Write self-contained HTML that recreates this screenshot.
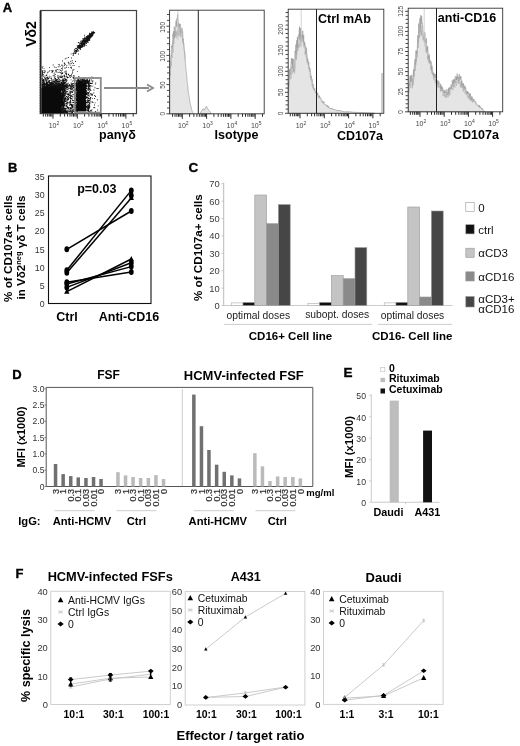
<!DOCTYPE html>
<html><head><meta charset="utf-8"><style>
html,body{margin:0;padding:0;background:#fff;}
body{width:520px;height:746px;overflow:hidden;}
svg{display:block;font-family:"Liberation Sans", sans-serif;filter:blur(0.3px);}
</style></head><body>
<svg width="520" height="746" viewBox="0 0 520 746">
<rect width="520" height="746" fill="#fff"/>
<text x="2.8" y="12" font-size="13" font-weight="bold" fill="#000" stroke="#000" stroke-width="0.35">A</text>
<path d="M84.5 40.4h.9v.9h-.9zM78.2 47h.9v.9h-.9zM86.2 36.7h.9v.9h-.9zM79.7 42.9h.9v.9h-.9zM79.1 45.6h.9v.9h-.9zM83.3 37.9h.9v.9h-.9zM77.7 46.2h.9v.9h-.9zM82.6 42.8h.9v.9h-.9zM80.1 45h.9v.9h-.9zM86.2 38.2h.9v.9h-.9zM92.2 35.2h.9v.9h-.9zM78.5 42.4h.9v.9h-.9zM81.2 44h.9v.9h-.9zM89 34.9h.9v.9h-.9zM82.2 44h.9v.9h-.9zM93.1 32.9h.9v.9h-.9zM83.4 40.4h.9v.9h-.9zM86.2 37.2h.9v.9h-.9zM80.6 42.7h.9v.9h-.9zM75 51.7h.9v.9h-.9zM83.6 41h.9v.9h-.9zM89.2 33.8h.9v.9h-.9zM87.6 36.1h.9v.9h-.9zM83.2 44.2h.9v.9h-.9zM88.6 36.3h.9v.9h-.9zM85.9 38.6h.9v.9h-.9zM82.5 44.3h.9v.9h-.9zM74.9 48.1h.9v.9h-.9zM92.2 33h.9v.9h-.9zM84.5 39.4h.9v.9h-.9zM70.7 53.4h.9v.9h-.9zM86.7 40.5h.9v.9h-.9zM81.9 43.9h.9v.9h-.9zM93.2 31.5h.9v.9h-.9zM76.8 45.2h.9v.9h-.9zM90.8 36.1h.9v.9h-.9zM86 36.2h.9v.9h-.9zM78.9 46h.9v.9h-.9zM80.8 42.7h.9v.9h-.9zM87.9 38.3h.9v.9h-.9zM85.3 38.6h.9v.9h-.9zM88.6 35.9h.9v.9h-.9zM91.8 32.3h.9v.9h-.9zM84.4 43h.9v.9h-.9zM83.7 39.1h.9v.9h-.9zM85.4 41.4h.9v.9h-.9zM80.8 46.4h.9v.9h-.9zM91.5 33.2h.9v.9h-.9zM78.1 48.2h.9v.9h-.9zM91.3 32.2h.9v.9h-.9zM92.3 34.5h.9v.9h-.9zM84.1 44.1h.9v.9h-.9zM84.5 42.6h.9v.9h-.9zM89.9 35.7h.9v.9h-.9zM77.6 46.9h.9v.9h-.9zM91.5 34.5h.9v.9h-.9zM84.7 39.6h.9v.9h-.9zM90.7 33.1h.9v.9h-.9zM90 35.7h.9v.9h-.9zM81.5 46.5h.9v.9h-.9zM84.1 40h.9v.9h-.9zM89.9 34.7h.9v.9h-.9zM88.7 34.5h.9v.9h-.9zM85.8 39.9h.9v.9h-.9zM88.5 37h.9v.9h-.9zM92 35.1h.9v.9h-.9zM75.3 50.5h.9v.9h-.9zM92 35.7h.9v.9h-.9zM82.8 44.4h.9v.9h-.9zM89.4 35.9h.9v.9h-.9zM90.4 37.2h.9v.9h-.9zM91.4 35.5h.9v.9h-.9zM91 36.2h.9v.9h-.9zM85.7 38.9h.9v.9h-.9zM86.1 37.7h.9v.9h-.9zM77.9 45.7h.9v.9h-.9zM81.5 42.7h.9v.9h-.9zM90.7 33.4h.9v.9h-.9zM84.3 40.9h.9v.9h-.9zM81.7 45.7h.9v.9h-.9zM81.9 41.2h.9v.9h-.9zM76.9 51.2h.9v.9h-.9zM83.7 43h.9v.9h-.9zM86.6 36.1h.9v.9h-.9zM90 35.2h.9v.9h-.9zM87.9 37h.9v.9h-.9zM84.7 42.2h.9v.9h-.9zM92.9 31.2h.9v.9h-.9zM87.3 38.8h.9v.9h-.9zM76.2 51.2h.9v.9h-.9zM81.7 45.6h.9v.9h-.9zM82.1 44h.9v.9h-.9zM80.2 47h.9v.9h-.9zM91.3 31.5h.9v.9h-.9zM76.8 46.7h.9v.9h-.9zM79.4 47.4h.9v.9h-.9zM77.1 47.1h.9v.9h-.9zM87.9 38.9h.9v.9h-.9zM84.2 42.2h.9v.9h-.9zM82.3 43.4h.9v.9h-.9zM92.6 32.5h.9v.9h-.9zM83.8 42.5h.9v.9h-.9zM77 49.2h.9v.9h-.9zM76.1 47.9h.9v.9h-.9zM80.7 44.7h.9v.9h-.9zM74.1 51.7h.9v.9h-.9zM87.5 39.1h.9v.9h-.9zM80.1 46.7h.9v.9h-.9zM90.1 35.4h.9v.9h-.9zM78.1 45.5h.9v.9h-.9zM87.8 37.3h.9v.9h-.9zM89 35.9h.9v.9h-.9zM89.8 36.7h.9v.9h-.9zM92.1 33.4h.9v.9h-.9zM88.7 36.3h.9v.9h-.9zM87.3 37.9h.9v.9h-.9zM82.4 41.8h.9v.9h-.9zM91.9 33h.9v.9h-.9zM90.3 35.3h.9v.9h-.9zM84 45.1h.9v.9h-.9zM85.5 41.2h.9v.9h-.9zM87.2 36.1h.9v.9h-.9zM74.9 49.8h.9v.9h-.9zM82.2 41.1h.9v.9h-.9zM74 49.3h.9v.9h-.9zM79.5 43.1h.9v.9h-.9zM78 45h.9v.9h-.9zM80.9 44.3h.9v.9h-.9zM80.1 46.7h.9v.9h-.9zM90.4 35.4h.9v.9h-.9zM88.8 35.8h.9v.9h-.9zM88.8 38.2h.9v.9h-.9zM86.6 38.8h.9v.9h-.9zM79.9 45.5h.9v.9h-.9zM75.6 52.5h.9v.9h-.9zM91.9 32.9h.9v.9h-.9zM83.5 40.6h.9v.9h-.9zM76.2 50.1h.9v.9h-.9zM92 33.2h.9v.9h-.9zM83.2 38.8h.9v.9h-.9zM85 41.5h.9v.9h-.9zM88.9 34.5h.9v.9h-.9zM86.2 37.9h.9v.9h-.9zM91.1 35.2h.9v.9h-.9zM78.2 47.2h.9v.9h-.9zM86.4 38.6h.9v.9h-.9zM91.6 32.6h.9v.9h-.9zM89.1 37.5h.9v.9h-.9zM89.3 39.9h.9v.9h-.9zM86.5 37.5h.9v.9h-.9zM90.7 34.6h.9v.9h-.9zM89.2 36.6h.9v.9h-.9zM78.7 46.4h.9v.9h-.9zM88.9 36.2h.9v.9h-.9zM78.8 47.2h.9v.9h-.9zM91.5 33.9h.9v.9h-.9zM86 39.1h.9v.9h-.9zM83.9 42.5h.9v.9h-.9zM72.9 53.8h.9v.9h-.9zM84.2 41h.9v.9h-.9zM86.3 39.5h.9v.9h-.9zM85 38h.9v.9h-.9zM90.9 34.4h.9v.9h-.9zM72.9 53.3h.9v.9h-.9zM87.6 39.1h.9v.9h-.9zM86.8 40.6h.9v.9h-.9zM76.4 48.3h.9v.9h-.9zM85.7 45.1h.9v.9h-.9zM86.5 36.9h.9v.9h-.9zM87.1 38.8h.9v.9h-.9zM75 53.1h.9v.9h-.9zM87.2 39.4h.9v.9h-.9zM86.9 38h.9v.9h-.9zM84.2 39.4h.9v.9h-.9zM86.1 39.6h.9v.9h-.9zM92.5 33.6h.9v.9h-.9zM80.9 41.4h.9v.9h-.9zM89 35.7h.9v.9h-.9zM77.3 48.7h.9v.9h-.9zM83 42.7h.9v.9h-.9zM89 38.8h.9v.9h-.9zM75.4 50.1h.9v.9h-.9zM86.4 35.9h.9v.9h-.9zM89.2 34.5h.9v.9h-.9zM76.7 50.1h.9v.9h-.9zM85.1 41h.9v.9h-.9zM89.4 37.1h.9v.9h-.9zM83 44.3h.9v.9h-.9zM90.5 35.6h.9v.9h-.9zM89 39.6h.9v.9h-.9zM79.1 46.9h.9v.9h-.9zM89.4 35.3h.9v.9h-.9zM85.8 40h.9v.9h-.9zM84 43.6h.9v.9h-.9zM90.5 33.4h.9v.9h-.9zM88.1 38.5h.9v.9h-.9zM88.4 36.4h.9v.9h-.9zM83.7 46h.9v.9h-.9zM84.1 41h.9v.9h-.9zM91.6 32.5h.9v.9h-.9zM88 35.5h.9v.9h-.9zM90.6 35.1h.9v.9h-.9zM91 35.4h.9v.9h-.9zM92.8 31.3h.9v.9h-.9zM88.2 37h.9v.9h-.9zM92.4 34.5h.9v.9h-.9zM89.4 36.3h.9v.9h-.9zM92.8 33.2h.9v.9h-.9zM82.1 45h.9v.9h-.9zM87.3 36.5h.9v.9h-.9zM84 41.9h.9v.9h-.9zM92.5 33.2h.9v.9h-.9zM88 36h.9v.9h-.9zM86.8 41.4h.9v.9h-.9zM79.5 45.4h.9v.9h-.9zM86.8 36.8h.9v.9h-.9zM84.4 36.5h.9v.9h-.9zM90.4 34.7h.9v.9h-.9zM90.7 34.3h.9v.9h-.9zM86.4 36.9h.9v.9h-.9zM91.5 34.1h.9v.9h-.9zM88.7 35.9h.9v.9h-.9zM89.6 35.7h.9v.9h-.9zM83.2 42.7h.9v.9h-.9zM87.7 38.8h.9v.9h-.9zM85.3 41h.9v.9h-.9zM82.8 42.8h.9v.9h-.9zM85.7 37.2h.9v.9h-.9zM79.7 49.2h.9v.9h-.9zM88.5 39.1h.9v.9h-.9zM89.9 34.3h.9v.9h-.9zM91.8 33.4h.9v.9h-.9zM92.8 31.8h.9v.9h-.9zM90.5 36.2h.9v.9h-.9zM90.4 35h.9v.9h-.9zM84 42.2h.9v.9h-.9zM84.2 41.4h.9v.9h-.9zM75.7 50.1h.9v.9h-.9zM87.5 37.7h.9v.9h-.9zM81.3 46.4h.9v.9h-.9zM90.1 33.5h.9v.9h-.9zM89.6 34.6h.9v.9h-.9zM89.3 38.6h.9v.9h-.9zM85 41.1h.9v.9h-.9zM86.8 36.8h.9v.9h-.9zM79 44.2h.9v.9h-.9zM89.2 34.6h.9v.9h-.9zM86.2 36.9h.9v.9h-.9zM78.7 46h.9v.9h-.9zM86 43.1h.9v.9h-.9zM78.9 48.2h.9v.9h-.9zM83.8 41.3h.9v.9h-.9zM81.8 41.8h.9v.9h-.9zM88.1 38.3h.9v.9h-.9zM79.8 45.2h.9v.9h-.9zM88.5 37h.9v.9h-.9zM89.8 34.3h.9v.9h-.9zM90.5 35.4h.9v.9h-.9zM91.1 34.8h.9v.9h-.9zM88.8 37.3h.9v.9h-.9zM86 38.4h.9v.9h-.9zM81.8 43.8h.9v.9h-.9zM87.5 37.6h.9v.9h-.9zM86.2 39.3h.9v.9h-.9zM91 36.3h.9v.9h-.9zM87 40.8h.9v.9h-.9zM79.4 46.8h.9v.9h-.9zM79.7 45.9h.9v.9h-.9zM92.6 32.8h.9v.9h-.9zM91.7 33.6h.9v.9h-.9zM85.9 39.4h.9v.9h-.9zM80.2 45.1h.9v.9h-.9zM89.8 37h.9v.9h-.9zM91.6 35.1h.9v.9h-.9zM80.8 41.7h.9v.9h-.9zM78.6 46.7h.9v.9h-.9zM82.8 44.8h.9v.9h-.9zM84.5 40.4h.9v.9h-.9zM80.9 43.2h.9v.9h-.9zM85.4 37.8h.9v.9h-.9zM88.5 36.4h.9v.9h-.9zM81.2 43h.9v.9h-.9zM82.3 42.5h.9v.9h-.9zM94.2 32.3h.9v.9h-.9zM87.7 35.9h.9v.9h-.9zM90.4 34h.9v.9h-.9zM85.9 40h.9v.9h-.9zM85.9 39.5h.9v.9h-.9zM90.5 36.4h.9v.9h-.9zM86.2 36.7h.9v.9h-.9zM73.5 51.9h.9v.9h-.9zM87.8 35.4h.9v.9h-.9zM81.4 44.3h.9v.9h-.9zM82.6 39.9h.9v.9h-.9zM90.9 34.2h.9v.9h-.9zM80.5 41.4h.9v.9h-.9zM89.1 32.8h.9v.9h-.9zM92.4 33.1h.9v.9h-.9zM85.6 40.5h.9v.9h-.9zM82.2 46h.9v.9h-.9zM84.8 38.1h.9v.9h-.9zM90.5 35.5h.9v.9h-.9zM90.9 33h.9v.9h-.9zM84 41.2h.9v.9h-.9zM83.9 41.8h.9v.9h-.9zM87.4 37.6h.9v.9h-.9zM87.9 40.3h.9v.9h-.9zM86.4 37.6h.9v.9h-.9zM78.1 50.2h.9v.9h-.9zM75.8 51.3h.9v.9h-.9zM83.1 43.1h.9v.9h-.9zM88.1 35.8h.9v.9h-.9zM84.7 40.8h.9v.9h-.9zM87.3 35h.9v.9h-.9zM87.7 37.7h.9v.9h-.9zM91.7 32.7h.9v.9h-.9zM91.7 32.6h.9v.9h-.9zM87 37.7h.9v.9h-.9zM89.1 35.5h.9v.9h-.9zM78.3 50.7h.9v.9h-.9zM89.7 36.1h.9v.9h-.9zM81.8 43.8h.9v.9h-.9zM82.6 42.4h.9v.9h-.9zM80.2 45.6h.9v.9h-.9zM91.4 34.7h.9v.9h-.9zM81.8 43.4h.9v.9h-.9zM83.4 45.9h.9v.9h-.9zM82.3 45.6h.9v.9h-.9zM88.8 35.6h.9v.9h-.9zM80.2 48.7h.9v.9h-.9zM90.3 33.8h.9v.9h-.9zM77.9 42h.9v.9h-.9zM90.2 35.6h.9v.9h-.9zM84.5 44.1h.9v.9h-.9zM76.9 46.7h.9v.9h-.9zM80.2 40.7h.9v.9h-.9zM81.5 41.4h.9v.9h-.9zM81.6 43.7h.9v.9h-.9zM82.8 41h.9v.9h-.9zM80.7 43.8h.9v.9h-.9zM92.1 32.4h.9v.9h-.9zM88.8 35.6h.9v.9h-.9zM89 35.9h.9v.9h-.9zM89.7 34.3h.9v.9h-.9zM78.5 45.7h.9v.9h-.9zM76.3 48.5h.9v.9h-.9zM88.2 40.2h.9v.9h-.9zM88.9 35.5h.9v.9h-.9zM87.6 38.4h.9v.9h-.9zM91.6 35.6h.9v.9h-.9zM91.8 34.5h.9v.9h-.9zM88.8 38.8h.9v.9h-.9zM81.5 39.9h.9v.9h-.9zM90.2 36.9h.9v.9h-.9zM87 39.7h.9v.9h-.9zM87.7 36.3h.9v.9h-.9zM77.6 46.2h.9v.9h-.9zM86.2 39.1h.9v.9h-.9zM79.4 45.4h.9v.9h-.9zM78.3 47h.9v.9h-.9zM75.5 51.7h.9v.9h-.9zM84.7 41.3h.9v.9h-.9zM86.2 38.2h.9v.9h-.9zM87.3 36h.9v.9h-.9zM79.4 45.6h.9v.9h-.9zM87.9 38.2h.9v.9h-.9zM89.2 36.6h.9v.9h-.9zM85.7 40.5h.9v.9h-.9zM84.2 39.8h.9v.9h-.9zM88 36.7h.9v.9h-.9zM85.2 41.8h.9v.9h-.9zM91.9 34.5h.9v.9h-.9zM82 42.6h.9v.9h-.9zM88.7 35.5h.9v.9h-.9zM88.3 35.7h.9v.9h-.9zM88.1 37.1h.9v.9h-.9zM87 38.2h.9v.9h-.9zM90.5 34.4h.9v.9h-.9zM92.6 31.5h.9v.9h-.9zM84.5 41.6h.9v.9h-.9zM92.3 33.9h.9v.9h-.9zM88.9 36.9h.9v.9h-.9zM85.8 41.8h.9v.9h-.9zM83.3 42.5h.9v.9h-.9zM91.7 32.7h.9v.9h-.9zM85.2 40.1h.9v.9h-.9zM84.6 40.2h.9v.9h-.9zM91.9 33.9h.9v.9h-.9zM81.6 47h.9v.9h-.9zM89.8 37.5h.9v.9h-.9zM84.2 42.2h.9v.9h-.9zM79.9 44.4h.9v.9h-.9zM86.9 38h.9v.9h-.9zM80.8 43.5h.9v.9h-.9zM87.6 36.2h.9v.9h-.9zM91.8 32.6h.9v.9h-.9zM80.1 42.8h.9v.9h-.9zM93 31.2h.9v.9h-.9zM85.9 37.7h.9v.9h-.9zM79.9 47.5h.9v.9h-.9zM89.8 36.4h.9v.9h-.9zM83.4 41.4h.9v.9h-.9zM82.7 42.6h.9v.9h-.9zM87.2 38.6h.9v.9h-.9zM93.3 32.5h.9v.9h-.9zM89.8 35.4h.9v.9h-.9zM83.3 43.6h.9v.9h-.9zM77.3 48.9h.9v.9h-.9zM82.5 42.7h.9v.9h-.9zM92 34h.9v.9h-.9zM83.7 39.4h.9v.9h-.9zM77.5 45.6h.9v.9h-.9zM84.1 34.8h.9v.9h-.9zM82 38.4h.9v.9h-.9zM82.8 40.3h.9v.9h-.9zM94.1 32.1h.9v.9h-.9zM84.4 42h.9v.9h-.9zM87.1 40.5h.9v.9h-.9zM83.3 40.9h.9v.9h-.9zM82.3 42.1h.9v.9h-.9zM83.8 38.4h.9v.9h-.9zM90.6 33.9h.9v.9h-.9zM88.5 40.2h.9v.9h-.9zM90.2 33.5h.9v.9h-.9zM84.8 40.8h.9v.9h-.9zM84 40.9h.9v.9h-.9zM92.8 33.1h.9v.9h-.9zM81.8 43h.9v.9h-.9zM92 33.8h.9v.9h-.9zM84.7 42.7h.9v.9h-.9zM85.7 41.4h.9v.9h-.9zM90.4 34.3h.9v.9h-.9zM80.6 44.8h.9v.9h-.9zM90.5 34.2h.9v.9h-.9zM85.5 40h.9v.9h-.9zM87.5 40h.9v.9h-.9zM80.4 46.3h.9v.9h-.9zM89.7 35h.9v.9h-.9zM80.8 46.1h.9v.9h-.9zM91.5 33.5h.9v.9h-.9zM92.3 34.6h.9v.9h-.9zM86.7 38.5h.9v.9h-.9zM92.7 33.5h.9v.9h-.9zM81.8 40.7h.9v.9h-.9zM82.6 42.8h.9v.9h-.9zM89.7 35.5h.9v.9h-.9zM77.4 46h.9v.9h-.9zM80 46.3h.9v.9h-.9zM85.3 39.5h.9v.9h-.9zM87 37h.9v.9h-.9zM83 43.6h.9v.9h-.9zM82.3 45.9h.9v.9h-.9zM90.9 32.8h.9v.9h-.9zM82.4 43.5h.9v.9h-.9zM86.1 37.5h.9v.9h-.9zM85.3 39.6h.9v.9h-.9zM90.9 33.6h.9v.9h-.9zM81.5 42.5h.9v.9h-.9zM91.7 33.7h.9v.9h-.9zM73.8 52.9h.9v.9h-.9zM83 40.7h.9v.9h-.9zM80.9 45.4h.9v.9h-.9zM76.7 46.7h.9v.9h-.9zM82.7 39.5h.9v.9h-.9zM85.9 39.5h.9v.9h-.9zM83.7 40.1h.9v.9h-.9zM93.4 32.9h.9v.9h-.9zM87.8 41.8h.9v.9h-.9zM84.8 39.6h.9v.9h-.9zM87.8 39.6h.9v.9h-.9zM86.4 36.9h.9v.9h-.9zM81.8 42h.9v.9h-.9zM88 37.2h.9v.9h-.9zM88.7 37.5h.9v.9h-.9zM77 48.5h.9v.9h-.9zM79.3 44.8h.9v.9h-.9zM90.9 33.8h.9v.9h-.9zM91.5 33h.9v.9h-.9zM86.7 41.5h.9v.9h-.9zM87.1 38.2h.9v.9h-.9zM88.6 35.8h.9v.9h-.9zM82.4 43.1h.9v.9h-.9zM83.2 39.2h.9v.9h-.9zM75.2 50.7h.9v.9h-.9zM81.2 47.1h.9v.9h-.9zM89.9 33.3h.9v.9h-.9zM91.6 31.6h.9v.9h-.9zM90.8 36.2h.9v.9h-.9zM83.7 38h.9v.9h-.9zM89 37.3h.9v.9h-.9zM86.1 40.9h.9v.9h-.9zM84.1 39.2h.9v.9h-.9zM83.2 43h.9v.9h-.9zM88.4 36.9h.9v.9h-.9zM88.6 37.1h.9v.9h-.9zM88.6 34.5h.9v.9h-.9zM90 37.3h.9v.9h-.9zM90.7 34.6h.9v.9h-.9zM85.3 42.1h.9v.9h-.9zM91.3 33.5h.9v.9h-.9zM78.8 45.3h.9v.9h-.9zM87.1 39.8h.9v.9h-.9zM89.4 34.6h.9v.9h-.9zM86 41.4h.9v.9h-.9zM73.7 50.4h.9v.9h-.9zM91.6 34.9h.9v.9h-.9zM79.7 45.2h.9v.9h-.9zM84.5 39.5h.9v.9h-.9zM80 48.6h.9v.9h-.9zM78.6 47.5h.9v.9h-.9zM87.3 41.9h.9v.9h-.9zM83.2 43h.9v.9h-.9zM92.1 32.7h.9v.9h-.9zM74.3 51.2h.9v.9h-.9zM79.6 42.4h.9v.9h-.9zM86.7 39.9h.9v.9h-.9zM89 35.5h.9v.9h-.9zM87.9 37.6h.9v.9h-.9zM87.1 39.8h.9v.9h-.9zM92.9 31.8h.9v.9h-.9zM89 36.4h.9v.9h-.9zM88.7 36.5h.9v.9h-.9zM79 44.5h.9v.9h-.9zM84.3 37.5h.9v.9h-.9zM84 42.9h.9v.9h-.9zM89.9 36.9h.9v.9h-.9zM87.6 36.4h.9v.9h-.9zM72.6 53.1h.9v.9h-.9zM88.5 36.5h.9v.9h-.9zM84.5 41.6h.9v.9h-.9zM87.4 38.1h.9v.9h-.9zM89.3 37.6h.9v.9h-.9zM85.2 42.6h.9v.9h-.9zM82.5 45h.9v.9h-.9zM82.8 39.6h.9v.9h-.9zM82.8 44.4h.9v.9h-.9zM77.2 49.1h.9v.9h-.9zM92 34.8h.9v.9h-.9zM87.7 36.3h.9v.9h-.9zM91.5 34.4h.9v.9h-.9zM93.1 31.6h.9v.9h-.9zM81.7 44.2h.9v.9h-.9zM89.1 34.1h.9v.9h-.9zM90.5 34.6h.9v.9h-.9zM76 50.7h.9v.9h-.9zM81.3 42.6h.9v.9h-.9zM84.3 41.6h.9v.9h-.9zM88.5 34.8h.9v.9h-.9zM81.3 46.9h.9v.9h-.9zM78.5 45.1h.9v.9h-.9zM86.7 40.1h.9v.9h-.9zM86.3 38h.9v.9h-.9zM91.8 33.2h.9v.9h-.9zM85.8 38.6h.9v.9h-.9zM84 42.7h.9v.9h-.9zM90.5 34.9h.9v.9h-.9zM88.7 36.7h.9v.9h-.9zM86 39.2h.9v.9h-.9zM83.3 43.2h.9v.9h-.9zM86.4 41h.9v.9h-.9zM62.6 86.2h.9v.9h-.9zM77.8 86.3h.9v.9h-.9zM46.8 84.8h.9v.9h-.9zM66.9 85.5h.9v.9h-.9zM71.2 73.8h.9v.9h-.9zM46.7 81.4h.9v.9h-.9zM72.9 63.1h.9v.9h-.9zM55.6 67h.9v.9h-.9zM73.6 75.8h.9v.9h-.9zM44.3 77.1h.9v.9h-.9zM55.1 79.8h.9v.9h-.9zM43.3 78.9h.9v.9h-.9zM74.6 83.7h.9v.9h-.9zM50.1 85.7h.9v.9h-.9zM74.1 84.3h.9v.9h-.9zM55.9 83.9h.9v.9h-.9zM56.8 69.2h.9v.9h-.9zM71.5 85.5h.9v.9h-.9zM71.1 57.5h.9v.9h-.9zM77.3 83.5h.9v.9h-.9zM65.7 75.8h.9v.9h-.9zM70.3 64.7h.9v.9h-.9zM70.5 75.1h.9v.9h-.9zM77.2 86.8h.9v.9h-.9zM71.3 75.8h.9v.9h-.9zM67.4 84.2h.9v.9h-.9zM68.3 74.4h.9v.9h-.9zM75.9 84.1h.9v.9h-.9zM60.1 69.8h.9v.9h-.9zM53.9 87.5h.9v.9h-.9zM54.2 81.3h.9v.9h-.9zM66.5 87.4h.9v.9h-.9zM79.3 84.3h.9v.9h-.9zM67.9 57h.9v.9h-.9zM49.3 87.2h.9v.9h-.9zM46.7 78.9h.9v.9h-.9zM57.8 66.3h.9v.9h-.9zM70.7 83.5h.9v.9h-.9zM61.2 72.6h.9v.9h-.9zM55.4 82.6h.9v.9h-.9zM60.8 76.2h.9v.9h-.9zM78.8 85.4h.9v.9h-.9zM60.1 84.3h.9v.9h-.9zM55.8 80.2h.9v.9h-.9zM65.3 79.1h.9v.9h-.9zM50.3 85.9h.9v.9h-.9zM68.8 74.9h.9v.9h-.9zM47.8 80.4h.9v.9h-.9zM43.8 83.3h.9v.9h-.9zM78.2 83.4h.9v.9h-.9zM56.9 85.5h.9v.9h-.9zM68.5 87.9h.9v.9h-.9zM56.2 80.3h.9v.9h-.9zM61.1 70.7h.9v.9h-.9zM43 83.9h.9v.9h-.9zM62.5 80.6h.9v.9h-.9zM55.7 82.2h.9v.9h-.9zM43.3 87.6h.9v.9h-.9zM61 76.5h.9v.9h-.9zM76.5 84.9h.9v.9h-.9zM71.8 61.9h.9v.9h-.9zM59.7 84h.9v.9h-.9zM53 84.4h.9v.9h-.9zM60.2 84.3h.9v.9h-.9zM57.1 76.6h.9v.9h-.9zM54.4 72.4h.9v.9h-.9zM71.2 84h.9v.9h-.9zM66 87.3h.9v.9h-.9zM59.2 83.1h.9v.9h-.9zM61.2 68.1h.9v.9h-.9zM69.2 84.1h.9v.9h-.9zM58.5 72h.9v.9h-.9zM46.7 77.2h.9v.9h-.9zM49.2 77.2h.9v.9h-.9zM64.2 86.6h.9v.9h-.9zM58.6 81.1h.9v.9h-.9zM53.9 80.8h.9v.9h-.9zM57 84.7h.9v.9h-.9zM79.8 85.4h.9v.9h-.9zM53.4 86.1h.9v.9h-.9zM49.6 87.8h.9v.9h-.9zM47.9 85.3h.9v.9h-.9zM76.1 87.6h.9v.9h-.9zM48.2 80.6h.9v.9h-.9zM72.7 84.9h.9v.9h-.9zM43 80.4h.9v.9h-.9zM57.7 84.1h.9v.9h-.9zM45.6 85.1h.9v.9h-.9zM53.6 73.4h.9v.9h-.9zM63.2 82.8h.9v.9h-.9zM68.7 64.4h.9v.9h-.9zM46.3 74.6h.9v.9h-.9zM52.6 85.6h.9v.9h-.9zM72.9 76.9h.9v.9h-.9zM75.8 87.6h.9v.9h-.9zM79.4 84.6h.9v.9h-.9zM47.8 83.6h.9v.9h-.9zM69.5 87.9h.9v.9h-.9zM66.6 76.7h.9v.9h-.9zM67.6 85h.9v.9h-.9zM59.8 75.6h.9v.9h-.9zM55.4 78.7h.9v.9h-.9zM56.7 80.6h.9v.9h-.9zM72.4 64.9h.9v.9h-.9zM64.8 58.3h.9v.9h-.9zM69.4 85.1h.9v.9h-.9zM72.2 72.5h.9v.9h-.9zM72.4 83.9h.9v.9h-.9zM42 84.9h.9v.9h-.9zM70.3 60.8h.9v.9h-.9zM43 84.9h.9v.9h-.9zM56 80.3h.9v.9h-.9zM62.2 87.2h.9v.9h-.9zM51.4 78.8h.9v.9h-.9zM61.8 77.6h.9v.9h-.9zM43.7 81.6h.9v.9h-.9zM70.8 66.8h.9v.9h-.9zM54.3 87h.9v.9h-.9zM72 71.4h.9v.9h-.9zM60.5 82.6h.9v.9h-.9zM51.9 84.5h.9v.9h-.9zM50.9 86.9h.9v.9h-.9zM53.8 75.3h.9v.9h-.9zM62.2 79.2h.9v.9h-.9zM62.2 80.3h.9v.9h-.9zM56.5 81.5h.9v.9h-.9zM73.3 75.5h.9v.9h-.9zM59.5 85.9h.9v.9h-.9zM59.7 84h.9v.9h-.9zM61.1 86.5h.9v.9h-.9zM62.3 72.3h.9v.9h-.9zM45.2 78h.9v.9h-.9zM70.8 82.5h.9v.9h-.9zM64 75.5h.9v.9h-.9zM57.4 83.4h.9v.9h-.9zM63.4 86.8h.9v.9h-.9zM56.6 83.2h.9v.9h-.9zM62.5 83.8h.9v.9h-.9zM48.6 87h.9v.9h-.9zM60.8 85.4h.9v.9h-.9zM62.9 82.3h.9v.9h-.9zM64.3 82.7h.9v.9h-.9zM52.1 86h.9v.9h-.9zM79.9 85.4h.9v.9h-.9zM67.6 84.5h.9v.9h-.9zM60.8 83.9h.9v.9h-.9zM58.7 81.9h.9v.9h-.9zM75 85.7h.9v.9h-.9zM60.4 80.1h.9v.9h-.9zM54.5 80.6h.9v.9h-.9zM67 76.5h.9v.9h-.9zM44.4 82.4h.9v.9h-.9zM65.9 81h.9v.9h-.9zM58.5 86.1h.9v.9h-.9zM47.2 83.4h.9v.9h-.9zM59.6 66.2h.9v.9h-.9zM62.1 69.6h.9v.9h-.9zM67.7 77.1h.9v.9h-.9zM51.2 86.6h.9v.9h-.9zM69 84.9h.9v.9h-.9zM67.9 86.7h.9v.9h-.9zM65.7 76.2h.9v.9h-.9zM59.5 86.4h.9v.9h-.9zM70.9 67.8h.9v.9h-.9zM57.2 81.7h.9v.9h-.9zM59 76.4h.9v.9h-.9zM55.2 84.4h.9v.9h-.9zM43.5 80.3h.9v.9h-.9zM50.9 87.3h.9v.9h-.9zM69.5 87.6h.9v.9h-.9zM56.4 80.6h.9v.9h-.9zM47.7 71.6h.9v.9h-.9zM47 72.4h.9v.9h-.9zM64.3 79.4h.9v.9h-.9zM78.8 84.5h.9v.9h-.9zM50 84.9h.9v.9h-.9zM70.9 62.9h.9v.9h-.9zM54.1 85.9h.9v.9h-.9zM59.4 84.1h.9v.9h-.9zM58.9 82.5h.9v.9h-.9zM42.6 86.8h.9v.9h-.9zM60.8 70.4h.9v.9h-.9zM64.9 70.7h.9v.9h-.9zM77.3 81.5h.9v.9h-.9zM44.8 87.7h.9v.9h-.9zM55.7 82.9h.9v.9h-.9zM72.2 83h.9v.9h-.9zM43.7 86.8h.9v.9h-.9zM52.1 71h.9v.9h-.9zM64.2 67.7h.9v.9h-.9zM63.2 81.6h.9v.9h-.9zM54.7 74h.9v.9h-.9zM42.8 87.4h.9v.9h-.9zM72.3 86.1h.9v.9h-.9zM63.4 86.6h.9v.9h-.9zM56.7 80.2h.9v.9h-.9zM49.1 70.6h.9v.9h-.9zM48.4 78.1h.9v.9h-.9zM60.6 85.5h.9v.9h-.9zM51.3 84.5h.9v.9h-.9zM73.6 68.9h.9v.9h-.9zM79.9 86.8h.9v.9h-.9zM63.3 80.8h.9v.9h-.9zM44.7 70.6h.9v.9h-.9zM54.6 87h.9v.9h-.9zM55.8 80.1h.9v.9h-.9zM56.5 71.8h.9v.9h-.9zM61.8 79.4h.9v.9h-.9zM56.2 83.8h.9v.9h-.9zM61.1 84.1h.9v.9h-.9zM42.1 83.3h.9v.9h-.9zM49 67.2h.9v.9h-.9zM66.4 65.2h.9v.9h-.9zM50.4 76.4h.9v.9h-.9zM62.5 65.8h.9v.9h-.9zM54.4 82.7h.9v.9h-.9zM66.4 86.9h.9v.9h-.9zM72.5 70h.9v.9h-.9zM64.2 63h.9v.9h-.9zM73.7 79.6h.9v.9h-.9zM47.7 77.5h.9v.9h-.9zM79.1 82.7h.9v.9h-.9zM55.1 84.3h.9v.9h-.9zM61.7 86.9h.9v.9h-.9zM67.8 61.8h.9v.9h-.9zM61.6 84.1h.9v.9h-.9zM58.8 79.2h.9v.9h-.9zM60.7 84.8h.9v.9h-.9zM62.7 75.6h.9v.9h-.9zM77.2 86.1h.9v.9h-.9zM64.9 79.8h.9v.9h-.9zM46 75.1h.9v.9h-.9zM65.1 72.9h.9v.9h-.9zM72.5 69.6h.9v.9h-.9zM73.2 87.3h.9v.9h-.9zM56 82.8h.9v.9h-.9zM42.7 87.7h.9v.9h-.9zM51.6 72.1h.9v.9h-.9zM76.1 84.8h.9v.9h-.9zM63.7 79.9h.9v.9h-.9zM71.8 60.3h.9v.9h-.9zM47.5 87.7h.9v.9h-.9zM78.2 80.3h.9v.9h-.9zM43.5 80h.9v.9h-.9zM58.8 83h.9v.9h-.9zM55.1 80.7h.9v.9h-.9zM51.8 82.4h.9v.9h-.9zM44.1 87.8h.9v.9h-.9zM62.9 79.7h.9v.9h-.9zM76.1 86.5h.9v.9h-.9zM44.5 71.6h.9v.9h-.9zM70.3 85.3h.9v.9h-.9zM71.3 87.2h.9v.9h-.9zM61.5 65h.9v.9h-.9zM65.8 74.3h.9v.9h-.9zM56.5 80.9h.9v.9h-.9zM61.2 73.1h.9v.9h-.9zM44 78.6h.9v.9h-.9zM77.5 80.4h.9v.9h-.9zM60.9 85.1h.9v.9h-.9zM41.6 83.6h.9v.9h-.9zM52.6 85.8h.9v.9h-.9zM64.7 64h.9v.9h-.9zM54.3 85.1h.9v.9h-.9zM64.4 71.5h.9v.9h-.9zM57.4 79.2h.9v.9h-.9zM43.2 75.8h.9v.9h-.9zM52.7 64.5h.9v.9h-.9zM65.1 85.6h.9v.9h-.9zM75.4 84.8h.9v.9h-.9zM77.5 86.8h.9v.9h-.9zM66.1 72.9h.9v.9h-.9zM72.2 84.7h.9v.9h-.9zM62.8 83h.9v.9h-.9zM52.7 75.3h.9v.9h-.9zM58.6 69.3h.9v.9h-.9zM70.7 79.4h.9v.9h-.9zM50.6 84.9h.9v.9h-.9zM73.9 81.1h.9v.9h-.9zM61.1 74.4h.9v.9h-.9zM70.4 85.2h.9v.9h-.9zM50.7 70.2h.9v.9h-.9zM71.6 85.7h.9v.9h-.9zM72.6 77.1h.9v.9h-.9zM64.8 82.4h.9v.9h-.9zM48.5 87.6h.9v.9h-.9zM72.9 78.2h.9v.9h-.9zM45.1 78.7h.9v.9h-.9zM46 82.4h.9v.9h-.9zM61.5 64.6h.9v.9h-.9zM75.8 85.5h.9v.9h-.9zM55.3 79.5h.9v.9h-.9zM72.8 83h.9v.9h-.9zM51.8 87.3h.9v.9h-.9zM65.3 86.3h.9v.9h-.9zM57.4 82h.9v.9h-.9zM64.2 87.5h.9v.9h-.9zM78.7 86.5h.9v.9h-.9zM58.8 79.3h.9v.9h-.9zM79.3 80.1h.9v.9h-.9zM57.7 84h.9v.9h-.9zM47.3 76.4h.9v.9h-.9zM67 77.4h.9v.9h-.9zM64 87.1h.9v.9h-.9zM52.8 81h.9v.9h-.9zM73.7 83.4h.9v.9h-.9zM64.3 78h.9v.9h-.9zM43.4 85.6h.9v.9h-.9zM53 70.4h.9v.9h-.9zM51.1 77.7h.9v.9h-.9zM73.3 85h.9v.9h-.9zM68.2 66.9h.9v.9h-.9zM52.2 70.3h.9v.9h-.9zM61.8 73.1h.9v.9h-.9zM54.3 78.3h.9v.9h-.9zM61.4 81.9h.9v.9h-.9zM65.6 72.3h.9v.9h-.9zM64.2 76.5h.9v.9h-.9zM57.7 86.2h.9v.9h-.9zM46.5 79.8h.9v.9h-.9zM48.9 80.4h.9v.9h-.9zM60.1 72.3h.9v.9h-.9zM63.9 74.8h.9v.9h-.9zM63.3 86.3h.9v.9h-.9zM61.8 81.3h.9v.9h-.9zM59.7 76.9h.9v.9h-.9zM54.2 78.5h.9v.9h-.9zM63.8 62.5h.9v.9h-.9zM48.2 87h.9v.9h-.9zM45.5 86.9h.9v.9h-.9zM44.8 79.7h.9v.9h-.9zM49.5 82.5h.9v.9h-.9zM61.6 87.6h.9v.9h-.9zM70.2 87.6h.9v.9h-.9zM49.2 79.9h.9v.9h-.9zM59.8 75.8h.9v.9h-.9zM70.2 75.3h.9v.9h-.9zM50.4 87.7h.9v.9h-.9zM48.4 86.3h.9v.9h-.9zM55.1 79.8h.9v.9h-.9zM46.9 84.7h.9v.9h-.9zM55.1 78.1h.9v.9h-.9zM50.5 78.2h.9v.9h-.9zM63.7 82.2h.9v.9h-.9zM66.7 83.3h.9v.9h-.9zM73.5 75h.9v.9h-.9zM64.7 67.6h.9v.9h-.9zM49 80.6h.9v.9h-.9zM69.8 77.1h.9v.9h-.9zM72.5 87.3h.9v.9h-.9zM58.8 71.7h.9v.9h-.9zM56.7 69h.9v.9h-.9zM66.2 73.9h.9v.9h-.9zM42.2 77.6h.9v.9h-.9zM62.2 76h.9v.9h-.9zM73.4 79.9h.9v.9h-.9zM61.4 77.1h.9v.9h-.9zM66.4 73.7h.9v.9h-.9zM56 79.3h.9v.9h-.9zM68 62.5h.9v.9h-.9zM73.8 65.2h.9v.9h-.9zM56 70.6h.9v.9h-.9zM70.8 86h.9v.9h-.9zM61.3 76.6h.9v.9h-.9zM63.9 83.3h.9v.9h-.9zM46.8 78.3h.9v.9h-.9zM52.4 86h.9v.9h-.9zM45.2 84.4h.9v.9h-.9zM42.9 83.5h.9v.9h-.9zM65.4 82.2h.9v.9h-.9zM49 87.1h.9v.9h-.9zM73.4 87.3h.9v.9h-.9zM43.7 84.4h.9v.9h-.9zM79.8 87.6h.9v.9h-.9zM45.5 83.7h.9v.9h-.9zM53.9 76.9h.9v.9h-.9zM63.2 86.5h.9v.9h-.9zM63.1 80.5h.9v.9h-.9zM55.9 87.1h.9v.9h-.9zM54.7 76.3h.9v.9h-.9zM63.7 81.9h.9v.9h-.9zM69.3 75.8h.9v.9h-.9zM59.3 85.9h.9v.9h-.9zM57.8 85.4h.9v.9h-.9zM66 70.7h.9v.9h-.9zM70.4 85.6h.9v.9h-.9zM58.8 78.8h.9v.9h-.9zM44.8 83.8h.9v.9h-.9zM76.8 82h.9v.9h-.9zM62.1 67.5h.9v.9h-.9zM53.7 81.7h.9v.9h-.9zM66.5 79.8h.9v.9h-.9zM68 74h.9v.9h-.9zM54.2 80.5h.9v.9h-.9zM49.3 85.2h.9v.9h-.9zM66.1 66.8h.9v.9h-.9zM69 85.7h.9v.9h-.9zM72 80.7h.9v.9h-.9zM66 84.4h.9v.9h-.9zM58.6 80.3h.9v.9h-.9zM50.5 82.4h.9v.9h-.9zM48.7 85h.9v.9h-.9zM51.6 79.8h.9v.9h-.9zM52.2 81.7h.9v.9h-.9zM45 86h.9v.9h-.9zM63.9 79.5h.9v.9h-.9zM57.8 84.2h.9v.9h-.9zM64.6 86.5h.9v.9h-.9zM57.8 78.1h.9v.9h-.9zM43.6 82.4h.9v.9h-.9zM61.7 86.3h.9v.9h-.9zM62 85.5h.9v.9h-.9zM62.4 79.7h.9v.9h-.9zM64.8 86.2h.9v.9h-.9zM63 78.6h.9v.9h-.9zM61.3 83.1h.9v.9h-.9zM54.3 84.2h.9v.9h-.9zM46.4 84.9h.9v.9h-.9zM50.9 85.1h.9v.9h-.9zM49.1 84.9h.9v.9h-.9zM53.6 81.1h.9v.9h-.9zM65.5 85.8h.9v.9h-.9zM43.9 84.9h.9v.9h-.9zM45.7 84.7h.9v.9h-.9zM62.9 83.9h.9v.9h-.9zM53.4 82.4h.9v.9h-.9zM42.1 80.3h.9v.9h-.9zM64.4 85.7h.9v.9h-.9zM44.8 80.7h.9v.9h-.9zM59.5 81.2h.9v.9h-.9zM51.5 82.8h.9v.9h-.9zM58.3 77.4h.9v.9h-.9zM59.9 84.2h.9v.9h-.9zM57.9 80.9h.9v.9h-.9zM46.5 85.9h.9v.9h-.9zM60 84.3h.9v.9h-.9zM51 82.6h.9v.9h-.9zM60.4 86.1h.9v.9h-.9zM51 81.5h.9v.9h-.9zM43 86.1h.9v.9h-.9zM53.1 79.5h.9v.9h-.9zM47.4 84.1h.9v.9h-.9zM42.1 83.3h.9v.9h-.9zM42 80.1h.9v.9h-.9zM46.2 85.1h.9v.9h-.9zM49 82.8h.9v.9h-.9zM56.1 81.4h.9v.9h-.9zM42.2 82.2h.9v.9h-.9zM51.4 80.1h.9v.9h-.9zM56.1 85.8h.9v.9h-.9zM58.1 86.4h.9v.9h-.9zM62.5 85.3h.9v.9h-.9zM46 83.3h.9v.9h-.9zM42.1 85.6h.9v.9h-.9zM45.4 79.4h.9v.9h-.9zM51.2 85.5h.9v.9h-.9zM51.8 83h.9v.9h-.9zM57.8 81.4h.9v.9h-.9zM56.2 85.3h.9v.9h-.9zM48.9 75.7h.9v.9h-.9zM46.6 82.4h.9v.9h-.9zM59.8 83.8h.9v.9h-.9zM53.7 85.8h.9v.9h-.9zM50.1 82.1h.9v.9h-.9zM52.1 86h.9v.9h-.9zM46.4 86.2h.9v.9h-.9zM58.5 83.1h.9v.9h-.9zM60.3 86.4h.9v.9h-.9zM47.2 76.7h.9v.9h-.9zM55.2 78.2h.9v.9h-.9zM51.8 81.5h.9v.9h-.9zM43 82.5h.9v.9h-.9zM54.9 82.2h.9v.9h-.9zM60.8 80.4h.9v.9h-.9zM48.1 80.5h.9v.9h-.9zM50.4 81.9h.9v.9h-.9zM61 83.7h.9v.9h-.9zM56.4 85h.9v.9h-.9zM61.3 85.6h.9v.9h-.9zM65.2 78.5h.9v.9h-.9zM60.5 82h.9v.9h-.9zM48.9 85h.9v.9h-.9zM49.8 83.7h.9v.9h-.9zM53.1 83.1h.9v.9h-.9zM43.5 80.9h.9v.9h-.9zM50 84.3h.9v.9h-.9zM47.8 78.6h.9v.9h-.9zM61.2 85.8h.9v.9h-.9zM58.8 83.1h.9v.9h-.9zM59.2 84.8h.9v.9h-.9zM60.7 83.6h.9v.9h-.9zM59.8 81.2h.9v.9h-.9zM61.9 80.6h.9v.9h-.9zM55.5 81.5h.9v.9h-.9zM65 79.5h.9v.9h-.9zM64.7 84.4h.9v.9h-.9zM61.6 86.1h.9v.9h-.9zM65.1 81.7h.9v.9h-.9zM55.5 82.2h.9v.9h-.9zM53.5 85.3h.9v.9h-.9zM43.5 80h.9v.9h-.9zM62.6 79.6h.9v.9h-.9zM45.9 82.4h.9v.9h-.9zM46.3 77.7h.9v.9h-.9zM49.6 83.1h.9v.9h-.9zM58 85.2h.9v.9h-.9zM60.4 80.2h.9v.9h-.9zM65.8 80.4h.9v.9h-.9zM46.5 85.5h.9v.9h-.9zM58.8 84.5h.9v.9h-.9zM42.8 81.4h.9v.9h-.9zM57.5 81h.9v.9h-.9zM51.3 82.2h.9v.9h-.9zM55.4 79.6h.9v.9h-.9zM46.7 82.1h.9v.9h-.9zM58 80.7h.9v.9h-.9zM52 86.3h.9v.9h-.9zM47.1 84.2h.9v.9h-.9zM57.9 83h.9v.9h-.9zM41.7 85h.9v.9h-.9zM46.4 86.4h.9v.9h-.9zM56.7 85.1h.9v.9h-.9zM51.1 83.1h.9v.9h-.9zM64.6 84h.9v.9h-.9zM65.2 78.4h.9v.9h-.9zM54.1 85.6h.9v.9h-.9zM61.7 82.6h.9v.9h-.9zM55.9 85.6h.9v.9h-.9zM48.6 85.9h.9v.9h-.9zM62.2 83.2h.9v.9h-.9zM64.5 82.8h.9v.9h-.9zM42.6 80.9h.9v.9h-.9zM42.1 82.1h.9v.9h-.9zM62.3 83.8h.9v.9h-.9zM43.6 82.6h.9v.9h-.9zM46.5 83.7h.9v.9h-.9zM57.6 84.9h.9v.9h-.9zM52.7 81.7h.9v.9h-.9zM62.4 84.5h.9v.9h-.9zM56.7 85.1h.9v.9h-.9zM64.9 84.6h.9v.9h-.9zM65.1 85h.9v.9h-.9zM57.7 82.7h.9v.9h-.9zM65.9 84.2h.9v.9h-.9zM60.1 85.6h.9v.9h-.9zM42.5 81h.9v.9h-.9zM59.1 83.3h.9v.9h-.9zM55.3 84.7h.9v.9h-.9zM63.5 86h.9v.9h-.9zM49 81.6h.9v.9h-.9zM61.8 82.1h.9v.9h-.9zM57.5 75.1h.9v.9h-.9zM65.9 86.1h.9v.9h-.9zM47.5 82.3h.9v.9h-.9zM59.8 84.8h.9v.9h-.9zM62.2 85.5h.9v.9h-.9zM61.3 82.1h.9v.9h-.9zM47.6 81.9h.9v.9h-.9zM47.8 85.4h.9v.9h-.9zM46.8 83.8h.9v.9h-.9zM61.3 84.5h.9v.9h-.9zM46.7 83.8h.9v.9h-.9zM65.3 85.8h.9v.9h-.9zM64.5 79.9h.9v.9h-.9zM43.5 83.6h.9v.9h-.9zM46.5 81.6h.9v.9h-.9zM65.8 76.3h.9v.9h-.9zM58.6 86.3h.9v.9h-.9zM48.1 86h.9v.9h-.9zM52.6 81h.9v.9h-.9zM64.5 86.2h.9v.9h-.9zM49.5 82.6h.9v.9h-.9zM60 84.5h.9v.9h-.9zM46 80.8h.9v.9h-.9zM56.8 78.9h.9v.9h-.9zM50.1 83.6h.9v.9h-.9zM49.2 86.2h.9v.9h-.9zM64.1 86h.9v.9h-.9zM60.4 85.6h.9v.9h-.9zM48.4 81.7h.9v.9h-.9zM49.1 84.5h.9v.9h-.9zM64.3 85h.9v.9h-.9zM63 80.8h.9v.9h-.9zM62.5 80.6h.9v.9h-.9zM63 86.1h.9v.9h-.9zM61.9 86.4h.9v.9h-.9zM62.2 80h.9v.9h-.9zM46 84h.9v.9h-.9zM56.9 83.7h.9v.9h-.9zM45.7 84.7h.9v.9h-.9zM61.4 85.2h.9v.9h-.9zM51.6 84.2h.9v.9h-.9zM49.7 79.9h.9v.9h-.9zM48.1 86.1h.9v.9h-.9zM48.3 81.8h.9v.9h-.9zM55.3 83h.9v.9h-.9zM54.7 86.2h.9v.9h-.9zM54.3 85.6h.9v.9h-.9zM46.9 82.6h.9v.9h-.9zM50.3 83.2h.9v.9h-.9zM64.1 82h.9v.9h-.9zM60.2 79.7h.9v.9h-.9zM58.6 85h.9v.9h-.9zM54.5 82.5h.9v.9h-.9zM48.5 84h.9v.9h-.9zM51.1 82.6h.9v.9h-.9zM58.1 85.6h.9v.9h-.9zM63 86.2h.9v.9h-.9zM45.6 82.8h.9v.9h-.9zM52.8 83.9h.9v.9h-.9zM47.4 85.7h.9v.9h-.9zM47.3 85.5h.9v.9h-.9zM61.3 85.3h.9v.9h-.9zM47.9 80.8h.9v.9h-.9zM41.7 78.9h.9v.9h-.9zM65.3 78.6h.9v.9h-.9zM50.4 84.1h.9v.9h-.9zM61.8 82.3h.9v.9h-.9zM51.9 85.7h.9v.9h-.9zM60.7 85.6h.9v.9h-.9zM50.9 83.5h.9v.9h-.9zM44.7 86.1h.9v.9h-.9zM56.2 83.7h.9v.9h-.9zM45.2 86.1h.9v.9h-.9zM51.2 85.4h.9v.9h-.9zM58.1 80.8h.9v.9h-.9zM46.1 85.9h.9v.9h-.9zM42.7 79.5h.9v.9h-.9zM64.4 80.5h.9v.9h-.9zM54.8 84.8h.9v.9h-.9zM60.4 82.4h.9v.9h-.9zM56.4 80.1h.9v.9h-.9zM54.4 85.3h.9v.9h-.9zM64.7 83.3h.9v.9h-.9zM43 79.7h.9v.9h-.9zM64 82h.9v.9h-.9zM45.8 77.3h.9v.9h-.9zM41.7 75.9h.9v.9h-.9zM42.3 81.2h.9v.9h-.9zM43.6 67.9h.9v.9h-.9zM43.1 74.2h.9v.9h-.9zM42.9 79.3h.9v.9h-.9zM43.3 80.1h.9v.9h-.9zM42.4 66.2h.9v.9h-.9zM41.6 75h.9v.9h-.9zM42.2 80.6h.9v.9h-.9zM42.3 71.2h.9v.9h-.9zM41.6 83.3h.9v.9h-.9zM42 87.8h.9v.9h-.9zM41.8 70h.9v.9h-.9zM42.2 74.6h.9v.9h-.9zM43.6 70.2h.9v.9h-.9zM42 72.2h.9v.9h-.9zM41.9 86.2h.9v.9h-.9zM41.8 87h.9v.9h-.9zM41.7 78h.9v.9h-.9zM42.1 83.2h.9v.9h-.9zM42.3 79.8h.9v.9h-.9zM41.8 67.5h.9v.9h-.9zM42.1 72.8h.9v.9h-.9zM41.8 87.7h.9v.9h-.9zM42.6 72h.9v.9h-.9zM41.7 70.9h.9v.9h-.9zM41.8 67.3h.9v.9h-.9zM42.1 73.8h.9v.9h-.9zM43.9 72.3h.9v.9h-.9zM64 64.8h.9v.9h-.9zM44.6 75.5h.9v.9h-.9zM58.3 64.2h.9v.9h-.9zM75 61h.9v.9h-.9zM72.7 55.1h.9v.9h-.9zM78 53.5h.9v.9h-.9zM75.1 85.7h.9v.9h-.9zM55.2 70.5h.9v.9h-.9zM66.4 80.4h.9v.9h-.9zM52.7 75.2h.9v.9h-.9zM67.8 82.8h.9v.9h-.9zM59.1 64.6h.9v.9h-.9zM62.7 85h.9v.9h-.9zM66.2 79.2h.9v.9h-.9zM66.6 85.3h.9v.9h-.9zM66.3 57.7h.9v.9h-.9zM63.7 85.1h.9v.9h-.9zM78.2 76.2h.9v.9h-.9zM73.6 77.7h.9v.9h-.9zM67.9 85.3h.9v.9h-.9zM55 84.3h.9v.9h-.9zM60.3 77.2h.9v.9h-.9zM62.1 60.6h.9v.9h-.9zM78.6 66.3h.9v.9h-.9zM55.4 69.8h.9v.9h-.9zM53.9 66.5h.9v.9h-.9zM46 82.1h.9v.9h-.9zM69.5 62.8h.9v.9h-.9zM51.5 70.7h.9v.9h-.9zM60.5 85h.9v.9h-.9zM57.8 76.5h.9v.9h-.9zM64.9 78.8h.9v.9h-.9zM76.9 70.9h.9v.9h-.9zM62.1 72.8h.9v.9h-.9zM74.7 79.9h.9v.9h-.9zM75.6 85.2h.9v.9h-.9zM56.9 83.2h.9v.9h-.9zM66.1 83.6h.9v.9h-.9zM68 73.7h.9v.9h-.9zM70.3 67.1h.9v.9h-.9zM72.4 111.2h.9v.9h-.9zM70.7 101.7h.9v.9h-.9zM73.8 94.7h.9v.9h-.9zM65.9 111h.9v.9h-.9zM67 100.4h.9v.9h-.9zM66.8 88.7h.9v.9h-.9zM69.7 92.2h.9v.9h-.9zM75.1 107.1h.9v.9h-.9zM70 98.7h.9v.9h-.9zM67.3 94.3h.9v.9h-.9zM76.7 88.9h.9v.9h-.9zM69.6 106.9h.9v.9h-.9zM69 111.7h.9v.9h-.9zM67.5 99.2h.9v.9h-.9zM75.4 100h.9v.9h-.9zM65.4 100.6h.9v.9h-.9zM70.2 98.2h.9v.9h-.9zM63.7 103h.9v.9h-.9zM66.4 101.4h.9v.9h-.9zM66.4 93.5h.9v.9h-.9zM63.7 98.3h.9v.9h-.9zM68.3 98.3h.9v.9h-.9zM66.7 110.7h.9v.9h-.9zM61.3 101.6h.9v.9h-.9zM70.7 110.1h.9v.9h-.9zM67 107.2h.9v.9h-.9zM62.5 110.2h.9v.9h-.9zM61.4 111.2h.9v.9h-.9zM72.3 97.7h.9v.9h-.9zM65.4 110.3h.9v.9h-.9zM62.5 108.5h.9v.9h-.9zM61.9 97.3h.9v.9h-.9zM75.8 87.6h.9v.9h-.9zM62.2 91.2h.9v.9h-.9zM67.8 88.4h.9v.9h-.9zM74 110.5h.9v.9h-.9zM69.2 108.7h.9v.9h-.9zM72.5 94h.9v.9h-.9zM71 87.8h.9v.9h-.9zM61.9 90.8h.9v.9h-.9zM67.6 89.4h.9v.9h-.9zM76.1 94.5h.9v.9h-.9zM63.3 88.3h.9v.9h-.9zM63.1 104.2h.9v.9h-.9zM70.5 104.1h.9v.9h-.9zM75 102.6h.9v.9h-.9zM69.6 107.6h.9v.9h-.9zM66.2 111.9h.9v.9h-.9zM70.8 98.7h.9v.9h-.9zM66.9 98.7h.9v.9h-.9zM72.1 107.3h.9v.9h-.9zM69.7 94.5h.9v.9h-.9zM63.5 96.5h.9v.9h-.9zM70.6 92.4h.9v.9h-.9zM74.7 90.3h.9v.9h-.9zM70 92.8h.9v.9h-.9zM73 102h.9v.9h-.9zM75.7 99.1h.9v.9h-.9zM63.8 99.5h.9v.9h-.9zM74.4 107.6h.9v.9h-.9zM63.3 107.5h.9v.9h-.9zM75.5 99.1h.9v.9h-.9zM66.6 85h.9v.9h-.9zM71 89.3h.9v.9h-.9zM70 100.9h.9v.9h-.9zM63.2 106.9h.9v.9h-.9zM76.7 88.5h.9v.9h-.9zM74.2 110.9h.9v.9h-.9zM67.9 102.2h.9v.9h-.9zM71.5 112.7h.9v.9h-.9zM66.4 89.1h.9v.9h-.9zM66.7 112.4h.9v.9h-.9zM73.4 90.6h.9v.9h-.9zM74.4 111.1h.9v.9h-.9zM74.6 91.9h.9v.9h-.9zM69.1 97.2h.9v.9h-.9zM75 105.7h.9v.9h-.9zM73.6 108.2h.9v.9h-.9zM70 96.6h.9v.9h-.9zM75.6 108.8h.9v.9h-.9zM75.8 87.5h.9v.9h-.9zM61.8 84.7h.9v.9h-.9zM74.1 90h.9v.9h-.9zM74.3 91.8h.9v.9h-.9zM67.2 112.8h.9v.9h-.9zM66.2 105.6h.9v.9h-.9zM75.2 103h.9v.9h-.9zM70.2 95h.9v.9h-.9zM72 99.5h.9v.9h-.9zM74.1 85.7h.9v.9h-.9zM75.1 111.4h.9v.9h-.9zM76.6 99.5h.9v.9h-.9zM74 107.9h.9v.9h-.9zM61.8 112h.9v.9h-.9zM72 102.2h.9v.9h-.9zM70.1 108.1h.9v.9h-.9zM69.9 107.2h.9v.9h-.9zM67.3 110.7h.9v.9h-.9zM63.5 96.4h.9v.9h-.9zM72.1 95.7h.9v.9h-.9zM61.9 87.8h.9v.9h-.9zM67.9 96.1h.9v.9h-.9zM65.7 84.8h.9v.9h-.9zM66.1 96h.9v.9h-.9zM61.1 105.3h.9v.9h-.9zM76.2 110.2h.9v.9h-.9zM74.2 99.7h.9v.9h-.9zM71.6 106.5h.9v.9h-.9zM63.7 107.7h.9v.9h-.9zM65.7 108.2h.9v.9h-.9zM68.5 111.6h.9v.9h-.9zM70.9 105.1h.9v.9h-.9zM71.1 108.7h.9v.9h-.9zM67.1 99h.9v.9h-.9zM75.9 108.6h.9v.9h-.9zM68.2 98.5h.9v.9h-.9zM74.1 95.9h.9v.9h-.9zM76.7 97.2h.9v.9h-.9zM74.6 107.3h.9v.9h-.9zM76.8 89.2h.9v.9h-.9zM66.2 87.6h.9v.9h-.9zM73.6 89.8h.9v.9h-.9zM62.7 101.3h.9v.9h-.9zM69.2 104.9h.9v.9h-.9zM66.7 93.8h.9v.9h-.9zM64 91h.9v.9h-.9zM61.4 109h.9v.9h-.9zM76.6 108.8h.9v.9h-.9zM72.3 108.8h.9v.9h-.9zM73.4 110.6h.9v.9h-.9zM66.5 96h.9v.9h-.9zM70.7 104.5h.9v.9h-.9zM66.6 106.8h.9v.9h-.9zM67.7 98.6h.9v.9h-.9zM72.2 106.5h.9v.9h-.9zM73.9 102.3h.9v.9h-.9zM74.6 84.4h.9v.9h-.9zM71.1 91.3h.9v.9h-.9zM62.4 106.5h.9v.9h-.9zM72.7 94.2h.9v.9h-.9zM66.4 91.9h.9v.9h-.9zM76.2 106h.9v.9h-.9zM66.6 105.6h.9v.9h-.9zM68 99.4h.9v.9h-.9zM72 100.1h.9v.9h-.9zM65 112.4h.9v.9h-.9zM69 85.3h.9v.9h-.9zM73.4 100.4h.9v.9h-.9zM74.1 84.8h.9v.9h-.9zM76.5 107.6h.9v.9h-.9zM72.9 111h.9v.9h-.9zM62.4 108h.9v.9h-.9zM75 103.1h.9v.9h-.9zM61.4 100.8h.9v.9h-.9zM66.6 104.1h.9v.9h-.9zM74 85.8h.9v.9h-.9zM71.2 111.9h.9v.9h-.9zM74.6 112.4h.9v.9h-.9zM62.5 94.3h.9v.9h-.9zM63 112h.9v.9h-.9zM75.3 94.8h.9v.9h-.9zM74.3 112.1h.9v.9h-.9zM75 108.6h.9v.9h-.9zM75.6 106.2h.9v.9h-.9zM64 93.8h.9v.9h-.9zM76.4 109.2h.9v.9h-.9zM64.8 87h.9v.9h-.9zM65.9 98.2h.9v.9h-.9zM76.6 104.5h.9v.9h-.9zM68.5 93.7h.9v.9h-.9zM73.2 100.4h.9v.9h-.9zM74 110.9h.9v.9h-.9zM66.3 93.4h.9v.9h-.9zM66.4 106.2h.9v.9h-.9zM64.1 90.2h.9v.9h-.9zM71.2 87.4h.9v.9h-.9zM67.6 107.4h.9v.9h-.9zM64.9 94.9h.9v.9h-.9zM72 105.3h.9v.9h-.9zM62.7 89.4h.9v.9h-.9zM70.4 111h.9v.9h-.9zM73.3 100.1h.9v.9h-.9zM70.4 89.2h.9v.9h-.9zM75 88.4h.9v.9h-.9zM67 97.3h.9v.9h-.9zM62.8 94.9h.9v.9h-.9zM74.2 98.4h.9v.9h-.9zM64.4 105.8h.9v.9h-.9zM75.1 109.9h.9v.9h-.9zM63.4 112.7h.9v.9h-.9zM71.4 84.9h.9v.9h-.9zM75.7 92.1h.9v.9h-.9zM65.9 91.2h.9v.9h-.9zM77 86.2h.9v.9h-.9zM69.9 109.2h.9v.9h-.9zM71.5 87.7h.9v.9h-.9zM62.6 104.5h.9v.9h-.9zM70 102.6h.9v.9h-.9zM74.3 90.5h.9v.9h-.9zM64.4 111.9h.9v.9h-.9zM73.3 85.8h.9v.9h-.9zM72.7 89.7h.9v.9h-.9zM62.6 87.2h.9v.9h-.9zM71.7 104.6h.9v.9h-.9zM67.1 112.1h.9v.9h-.9zM74.4 112h.9v.9h-.9zM75.4 96.2h.9v.9h-.9zM72.2 106.9h.9v.9h-.9zM72.2 111.2h.9v.9h-.9zM69.3 101.3h.9v.9h-.9zM63.4 92.6h.9v.9h-.9zM76.3 104.8h.9v.9h-.9zM66.6 102.9h.9v.9h-.9zM65.3 103.2h.9v.9h-.9zM67.4 102.6h.9v.9h-.9zM70.9 95.3h.9v.9h-.9zM69.1 90.7h.9v.9h-.9zM63.8 105.2h.9v.9h-.9zM67.3 84.2h.9v.9h-.9zM69.4 104.5h.9v.9h-.9zM65.1 98.1h.9v.9h-.9zM76.9 98.6h.9v.9h-.9zM71.9 89.3h.9v.9h-.9zM70.6 86.5h.9v.9h-.9zM67.6 106.8h.9v.9h-.9zM61.2 95.8h.9v.9h-.9zM68.4 93.2h.9v.9h-.9zM67.9 111.3h.9v.9h-.9zM74.3 110.6h.9v.9h-.9zM66.1 90.7h.9v.9h-.9zM76.3 102.3h.9v.9h-.9zM65.1 93.9h.9v.9h-.9zM69.9 110.5h.9v.9h-.9zM76.1 112.6h.9v.9h-.9zM71.3 103.8h.9v.9h-.9zM65.1 90.1h.9v.9h-.9zM77 98.2h.9v.9h-.9zM72.1 112.1h.9v.9h-.9zM76.4 110.8h.9v.9h-.9zM66.1 99.6h.9v.9h-.9zM64.9 111.1h.9v.9h-.9zM77 85.9h.9v.9h-.9zM76.2 102.1h.9v.9h-.9zM71.1 95.4h.9v.9h-.9zM63.8 97.1h.9v.9h-.9zM72.3 105.6h.9v.9h-.9zM64.6 88.4h.9v.9h-.9zM73.8 104.2h.9v.9h-.9zM62.2 95.8h.9v.9h-.9zM63.6 96.8h.9v.9h-.9zM65.5 96.3h.9v.9h-.9zM75.5 108.3h.9v.9h-.9zM75.7 101.8h.9v.9h-.9zM70.8 111h.9v.9h-.9zM67.1 106.6h.9v.9h-.9zM66.6 108.5h.9v.9h-.9zM62 99.4h.9v.9h-.9zM67.1 112.7h.9v.9h-.9zM68.2 108.1h.9v.9h-.9zM68.1 109.6h.9v.9h-.9zM72 106.6h.9v.9h-.9zM71.7 85h.9v.9h-.9zM64.1 98.6h.9v.9h-.9zM62.3 102.6h.9v.9h-.9zM61.4 105.4h.9v.9h-.9zM68.2 94h.9v.9h-.9zM69.1 110.8h.9v.9h-.9zM62.1 94h.9v.9h-.9zM73.6 108.6h.9v.9h-.9zM61.5 103.2h.9v.9h-.9zM64.5 91h.9v.9h-.9zM66.1 104.9h.9v.9h-.9zM73.8 96.6h.9v.9h-.9zM76.9 111.3h.9v.9h-.9zM69 85.3h.9v.9h-.9zM64.5 91.3h.9v.9h-.9zM64.6 112.7h.9v.9h-.9zM72.1 91.3h.9v.9h-.9zM74.6 110.7h.9v.9h-.9zM62.5 98.4h.9v.9h-.9zM62.9 110.9h.9v.9h-.9zM70.2 100.1h.9v.9h-.9zM68 107.9h.9v.9h-.9zM64.9 91.2h.9v.9h-.9zM66.4 112.6h.9v.9h-.9zM66.1 96.4h.9v.9h-.9zM72 104.4h.9v.9h-.9zM67.5 86.3h.9v.9h-.9zM71.1 111.6h.9v.9h-.9zM74.1 88h.9v.9h-.9zM62.8 104h.9v.9h-.9zM68.8 95h.9v.9h-.9zM75.6 90h.9v.9h-.9zM63.1 101.6h.9v.9h-.9zM69.6 103.9h.9v.9h-.9zM71.7 105.6h.9v.9h-.9zM70.4 91.6h.9v.9h-.9zM71 106.6h.9v.9h-.9zM69.8 96.3h.9v.9h-.9zM67.2 91h.9v.9h-.9zM63 112.4h.9v.9h-.9zM69.8 101.6h.9v.9h-.9zM61.3 109.6h.9v.9h-.9zM63.5 101h.9v.9h-.9zM67.3 97h.9v.9h-.9zM75.1 93.2h.9v.9h-.9zM65.2 108.6h.9v.9h-.9zM67.1 102h.9v.9h-.9zM71.5 111.5h.9v.9h-.9zM64.4 109.7h.9v.9h-.9zM74.9 108.6h.9v.9h-.9zM64.5 101h.9v.9h-.9zM65.2 111.6h.9v.9h-.9zM66.2 103.2h.9v.9h-.9zM70.2 104h.9v.9h-.9zM61.6 111.6h.9v.9h-.9zM76.1 100.3h.9v.9h-.9zM62.3 88.1h.9v.9h-.9zM64.1 111.4h.9v.9h-.9zM62.3 85.4h.9v.9h-.9zM71 106.5h.9v.9h-.9zM68.5 94.1h.9v.9h-.9zM73 87.2h.9v.9h-.9zM67.4 93.4h.9v.9h-.9zM67.2 87.1h.9v.9h-.9zM62.3 99.9h.9v.9h-.9zM65.2 97.2h.9v.9h-.9zM63.9 95.5h.9v.9h-.9zM69.9 97.5h.9v.9h-.9zM63.9 100.3h.9v.9h-.9zM75.9 89h.9v.9h-.9zM76.4 98.3h.9v.9h-.9zM74.3 92.8h.9v.9h-.9zM72.1 110.1h.9v.9h-.9zM77 110.8h.9v.9h-.9zM67.9 108.2h.9v.9h-.9zM70.3 94.5h.9v.9h-.9zM72 92h.9v.9h-.9zM62.5 108.3h.9v.9h-.9zM64.3 91.7h.9v.9h-.9zM70 86.2h.9v.9h-.9zM72.6 111h.9v.9h-.9zM68.8 102.7h.9v.9h-.9zM65.5 103.4h.9v.9h-.9zM76.9 105h.9v.9h-.9zM63 106.7h.9v.9h-.9zM69.5 94.5h.9v.9h-.9zM65.9 110.2h.9v.9h-.9zM64.5 85.1h.9v.9h-.9zM69.1 102.4h.9v.9h-.9zM71 98h.9v.9h-.9zM73.3 106.5h.9v.9h-.9zM76.5 96.2h.9v.9h-.9zM64.4 103.9h.9v.9h-.9zM75.7 89.3h.9v.9h-.9zM75.7 100.3h.9v.9h-.9zM65.2 108.1h.9v.9h-.9zM61.2 111.1h.9v.9h-.9zM76.8 88.7h.9v.9h-.9zM76.1 96.3h.9v.9h-.9zM72.8 104.5h.9v.9h-.9zM66.7 102.2h.9v.9h-.9zM71.9 88h.9v.9h-.9zM65.6 105.6h.9v.9h-.9zM61.4 102.8h.9v.9h-.9zM77 97.2h.9v.9h-.9zM65.3 88.1h.9v.9h-.9zM75.7 107.2h.9v.9h-.9zM68.8 92.5h.9v.9h-.9zM74.9 112.4h.9v.9h-.9zM62.6 88.3h.9v.9h-.9zM70.2 112.4h.9v.9h-.9zM76.1 86h.9v.9h-.9zM69.5 109.7h.9v.9h-.9zM75.1 105.3h.9v.9h-.9zM76.1 102.1h.9v.9h-.9zM70.6 96.2h.9v.9h-.9zM76.6 102.5h.9v.9h-.9zM68.7 85.7h.9v.9h-.9zM76.3 88h.9v.9h-.9zM64.1 104.9h.9v.9h-.9zM69.6 103.8h.9v.9h-.9zM72.8 109.6h.9v.9h-.9zM71.6 104.8h.9v.9h-.9zM74.2 109.5h.9v.9h-.9zM73.8 95.7h.9v.9h-.9zM70.9 107.8h.9v.9h-.9zM76.2 105.7h.9v.9h-.9zM68.2 94.4h.9v.9h-.9zM63.4 112.4h.9v.9h-.9zM67 110.2h.9v.9h-.9zM75.4 98.2h.9v.9h-.9zM67.4 98.9h.9v.9h-.9zM66 112.2h.9v.9h-.9zM61.9 112.4h.9v.9h-.9zM70.2 96.4h.9v.9h-.9zM67.8 97.5h.9v.9h-.9zM71.6 89.3h.9v.9h-.9zM74.6 90.5h.9v.9h-.9zM76.6 112.5h.9v.9h-.9zM74.1 88.6h.9v.9h-.9zM68 95.7h.9v.9h-.9zM67.3 107.4h.9v.9h-.9zM61.2 94.3h.9v.9h-.9zM66.7 111h.9v.9h-.9zM76.1 104.3h.9v.9h-.9zM75.2 112.8h.9v.9h-.9zM67.1 99.4h.9v.9h-.9zM76.7 112.4h.9v.9h-.9zM67.5 98.7h.9v.9h-.9zM63.5 109.1h.9v.9h-.9zM68.2 107.2h.9v.9h-.9zM67.1 112.6h.9v.9h-.9zM71.7 96.4h.9v.9h-.9zM70.2 88.4h.9v.9h-.9zM71.8 105.2h.9v.9h-.9zM68.5 111.6h.9v.9h-.9zM66.7 87.4h.9v.9h-.9zM73.1 86.9h.9v.9h-.9zM70.1 90.8h.9v.9h-.9zM76.7 96h.9v.9h-.9zM71.4 104.9h.9v.9h-.9zM64.9 88.8h.9v.9h-.9zM75.6 98.9h.9v.9h-.9zM66.3 86.2h.9v.9h-.9zM66.6 110.7h.9v.9h-.9zM43.6 85.5h.9v.9h-.9zM62.1 88.2h.9v.9h-.9zM47.5 85.9h.9v.9h-.9zM45.7 87.7h.9v.9h-.9zM49 85.3h.9v.9h-.9zM56.7 87.1h.9v.9h-.9zM42.8 87.4h.9v.9h-.9zM61.8 85.2h.9v.9h-.9zM53.9 89.3h.9v.9h-.9zM63.5 88.5h.9v.9h-.9zM49.7 85.9h.9v.9h-.9zM61.6 87.4h.9v.9h-.9zM44.7 85.7h.9v.9h-.9zM47.1 86.8h.9v.9h-.9zM62.5 85.6h.9v.9h-.9zM45.1 86.7h.9v.9h-.9zM42.6 83.7h.9v.9h-.9zM46.3 86.1h.9v.9h-.9zM42.8 87.3h.9v.9h-.9zM59.5 91.7h.9v.9h-.9zM52.7 87.6h.9v.9h-.9zM48.7 88.8h.9v.9h-.9zM57.5 87.5h.9v.9h-.9zM47 85.7h.9v.9h-.9zM48 87.5h.9v.9h-.9zM62.7 87.2h.9v.9h-.9zM62.4 87h.9v.9h-.9zM59.5 86.8h.9v.9h-.9zM52.6 85.9h.9v.9h-.9zM44.2 82.5h.9v.9h-.9zM52.6 84.6h.9v.9h-.9zM63.2 84.4h.9v.9h-.9zM46.3 87.7h.9v.9h-.9zM44.1 87h.9v.9h-.9zM47.6 86.5h.9v.9h-.9zM62.5 84.9h.9v.9h-.9zM43.6 84.6h.9v.9h-.9zM45.2 86.4h.9v.9h-.9zM41.6 83.2h.9v.9h-.9zM63.1 85.4h.9v.9h-.9zM63.6 85.6h.9v.9h-.9zM55.3 85.8h.9v.9h-.9zM47.8 84.1h.9v.9h-.9zM61 86.6h.9v.9h-.9zM51 85.6h.9v.9h-.9zM54.9 86.8h.9v.9h-.9zM62.4 82.8h.9v.9h-.9zM48 87.9h.9v.9h-.9zM44.1 87.4h.9v.9h-.9zM62.2 86.4h.9v.9h-.9zM49.4 88.3h.9v.9h-.9zM47 85.8h.9v.9h-.9zM41.9 87h.9v.9h-.9zM63.2 87.7h.9v.9h-.9zM49.2 86.1h.9v.9h-.9zM53.4 86.2h.9v.9h-.9zM42.9 89h.9v.9h-.9zM62.5 87.5h.9v.9h-.9zM46.6 85.3h.9v.9h-.9zM62.5 87.4h.9v.9h-.9zM43.6 86.3h.9v.9h-.9zM49.7 83.9h.9v.9h-.9zM55.5 85h.9v.9h-.9zM56.4 87.6h.9v.9h-.9zM42.2 83.2h.9v.9h-.9zM52.3 88.4h.9v.9h-.9zM59.2 86.7h.9v.9h-.9zM42.1 87.4h.9v.9h-.9zM49.8 86.3h.9v.9h-.9zM48.3 86.6h.9v.9h-.9zM44.2 88.5h.9v.9h-.9zM63.3 87h.9v.9h-.9zM54.6 84.9h.9v.9h-.9zM44.4 89h.9v.9h-.9zM60.7 84.1h.9v.9h-.9zM44.6 85.5h.9v.9h-.9zM52.5 87.5h.9v.9h-.9zM49.8 88.1h.9v.9h-.9zM59.5 85.6h.9v.9h-.9zM59.3 85.8h.9v.9h-.9zM54.3 86.5h.9v.9h-.9zM41.8 86.5h.9v.9h-.9zM47 84.8h.9v.9h-.9zM50.1 85.2h.9v.9h-.9zM63.6 85.8h.9v.9h-.9zM49.3 84.8h.9v.9h-.9zM62.2 89.7h.9v.9h-.9zM60.3 87.1h.9v.9h-.9zM49.1 90.1h.9v.9h-.9zM46.2 84.2h.9v.9h-.9zM56.9 88.8h.9v.9h-.9zM58.9 84.5h.9v.9h-.9zM59.9 86.4h.9v.9h-.9zM43 85.9h.9v.9h-.9zM60.8 89.4h.9v.9h-.9zM55.9 85.6h.9v.9h-.9zM53.6 85.8h.9v.9h-.9zM62.1 87.6h.9v.9h-.9zM62.3 89h.9v.9h-.9zM54.5 85.3h.9v.9h-.9zM61.4 86.3h.9v.9h-.9zM52.8 86.2h.9v.9h-.9zM46.9 85.9h.9v.9h-.9zM43.8 86h.9v.9h-.9zM61.6 87.6h.9v.9h-.9zM45.5 87.8h.9v.9h-.9zM55.8 84h.9v.9h-.9zM60.1 86.6h.9v.9h-.9zM45.5 83.6h.9v.9h-.9zM49 84.8h.9v.9h-.9zM49.5 86.6h.9v.9h-.9zM54.7 88.1h.9v.9h-.9zM62.1 87.6h.9v.9h-.9zM60.9 85.9h.9v.9h-.9zM57.6 85.4h.9v.9h-.9zM46.8 88.8h.9v.9h-.9zM60.6 89h.9v.9h-.9zM54.3 85.3h.9v.9h-.9zM54.5 86.6h.9v.9h-.9zM52.4 87.7h.9v.9h-.9zM45.4 86h.9v.9h-.9zM48.9 84.1h.9v.9h-.9zM57.5 87.2h.9v.9h-.9zM43.1 89.6h.9v.9h-.9zM43.7 85.4h.9v.9h-.9zM62.6 86.4h.9v.9h-.9zM49.5 86.8h.9v.9h-.9zM56.2 86.5h.9v.9h-.9zM41.6 84.5h.9v.9h-.9zM57.6 84.6h.9v.9h-.9zM58.5 84.3h.9v.9h-.9zM49.7 87h.9v.9h-.9zM49 86h.9v.9h-.9zM55.5 89.7h.9v.9h-.9zM54.1 85.9h.9v.9h-.9zM42.7 91.6h.9v.9h-.9zM46.7 86.9h.9v.9h-.9zM62.8 85h.9v.9h-.9zM42.1 87.6h.9v.9h-.9zM63.6 83.6h.9v.9h-.9zM57.1 86.9h.9v.9h-.9zM47.6 88.6h.9v.9h-.9zM63.4 85.7h.9v.9h-.9zM59.3 84.6h.9v.9h-.9zM62.9 85.6h.9v.9h-.9zM44.3 83.8h.9v.9h-.9zM51.8 85.9h.9v.9h-.9zM58.2 88h.9v.9h-.9zM59.1 86.6h.9v.9h-.9zM57.8 83.6h.9v.9h-.9zM44.6 91.2h.9v.9h-.9zM52.7 88.8h.9v.9h-.9zM50.4 89h.9v.9h-.9zM45.2 86.2h.9v.9h-.9zM58.3 88.5h.9v.9h-.9zM48.5 87.3h.9v.9h-.9zM58.6 88.6h.9v.9h-.9zM59 86.1h.9v.9h-.9zM53.6 88.1h.9v.9h-.9zM57.8 86.9h.9v.9h-.9zM45.1 88.7h.9v.9h-.9zM50.4 86.5h.9v.9h-.9zM54.4 88.8h.9v.9h-.9zM43.4 84.3h.9v.9h-.9zM49.8 85.1h.9v.9h-.9zM63.3 85.3h.9v.9h-.9zM49.2 87.3h.9v.9h-.9zM55.7 84.3h.9v.9h-.9zM60.4 83.3h.9v.9h-.9zM46.4 89.4h.9v.9h-.9zM51.8 87.6h.9v.9h-.9zM57 91.4h.9v.9h-.9zM58.1 84.9h.9v.9h-.9zM52.9 84.4h.9v.9h-.9zM54.9 87.7h.9v.9h-.9zM57.5 88.5h.9v.9h-.9zM53.2 88.7h.9v.9h-.9zM49.5 84.1h.9v.9h-.9zM46.9 83.5h.9v.9h-.9zM53.8 84h.9v.9h-.9zM44.9 88.2h.9v.9h-.9zM43.2 84.5h.9v.9h-.9zM42.6 84h.9v.9h-.9zM62.4 84.9h.9v.9h-.9zM62.7 88.8h.9v.9h-.9zM54.4 83.5h.9v.9h-.9zM61.4 85.8h.9v.9h-.9zM42.8 84.5h.9v.9h-.9zM51.5 89.6h.9v.9h-.9zM54.4 85.9h.9v.9h-.9zM56.4 87.1h.9v.9h-.9zM56.5 85.2h.9v.9h-.9zM48.2 86.1h.9v.9h-.9zM55.9 86.3h.9v.9h-.9zM60.7 84.6h.9v.9h-.9zM56.9 84.9h.9v.9h-.9zM50.2 88.1h.9v.9h-.9zM56.4 86.6h.9v.9h-.9zM50.2 84.8h.9v.9h-.9zM47.3 89.3h.9v.9h-.9zM61 87.4h.9v.9h-.9zM51.6 86.5h.9v.9h-.9zM50.8 86.6h.9v.9h-.9zM49.1 89.5h.9v.9h-.9zM49 85.2h.9v.9h-.9zM52.9 88.4h.9v.9h-.9zM47 83.6h.9v.9h-.9zM59.3 87.6h.9v.9h-.9zM48.3 84.2h.9v.9h-.9zM62.8 87.1h.9v.9h-.9zM62.4 85.8h.9v.9h-.9zM47.9 85.2h.9v.9h-.9zM43.7 89.1h.9v.9h-.9zM50.8 86.5h.9v.9h-.9zM46 87.5h.9v.9h-.9zM54.4 86.8h.9v.9h-.9zM55.7 84.5h.9v.9h-.9zM52.9 89.3h.9v.9h-.9zM42.9 91.4h.9v.9h-.9zM61.8 86.8h.9v.9h-.9zM51.6 89.1h.9v.9h-.9zM58.7 87.2h.9v.9h-.9zM46.2 86.7h.9v.9h-.9zM46.4 89.7h.9v.9h-.9zM59.2 86.2h.9v.9h-.9zM55.8 87.8h.9v.9h-.9zM41.9 86h.9v.9h-.9zM43.3 82.4h.9v.9h-.9zM50.4 89.8h.9v.9h-.9zM58.1 86.7h.9v.9h-.9zM62.3 86.7h.9v.9h-.9zM56.9 86.3h.9v.9h-.9zM60.2 85.4h.9v.9h-.9zM46 86h.9v.9h-.9zM56.4 86.8h.9v.9h-.9zM61.4 87h.9v.9h-.9zM50.5 86h.9v.9h-.9zM51.7 85.8h.9v.9h-.9zM49.5 87.4h.9v.9h-.9zM60.9 86h.9v.9h-.9zM44.6 86.9h.9v.9h-.9zM43.1 84.7h.9v.9h-.9zM58.8 85.3h.9v.9h-.9zM59.9 90.7h.9v.9h-.9zM57.5 87.5h.9v.9h-.9zM41.7 84.5h.9v.9h-.9zM42.6 87.8h.9v.9h-.9zM59.9 87h.9v.9h-.9zM57.1 84.8h.9v.9h-.9zM57.8 87.1h.9v.9h-.9zM49.3 88.2h.9v.9h-.9zM45.7 84.6h.9v.9h-.9zM59.5 88.5h.9v.9h-.9zM54.3 88.1h.9v.9h-.9zM43.8 83.4h.9v.9h-.9zM54.1 86.6h.9v.9h-.9zM43.4 86.3h.9v.9h-.9zM59.2 88.1h.9v.9h-.9zM58.3 83.8h.9v.9h-.9zM61 88.6h.9v.9h-.9zM61.1 86.9h.9v.9h-.9zM61.4 88.1h.9v.9h-.9zM45.8 85h.9v.9h-.9zM44 84.9h.9v.9h-.9zM62.8 86.5h.9v.9h-.9zM58.8 85.9h.9v.9h-.9zM50.2 89h.9v.9h-.9zM42.2 88h.9v.9h-.9zM53.7 90.2h.9v.9h-.9zM56.6 86h.9v.9h-.9zM43.1 89h.9v.9h-.9zM49.4 90.2h.9v.9h-.9zM62 87.8h.9v.9h-.9zM52.5 83.1h.9v.9h-.9zM55.4 85.6h.9v.9h-.9zM48.3 87.3h.9v.9h-.9zM54.6 86.5h.9v.9h-.9zM50.1 84.1h.9v.9h-.9zM51.3 86.9h.9v.9h-.9zM46.9 82.5h.9v.9h-.9zM56.7 85.6h.9v.9h-.9zM58.8 89.3h.9v.9h-.9zM59.3 85.7h.9v.9h-.9zM59.6 89h.9v.9h-.9zM42.3 86.4h.9v.9h-.9zM51 87.9h.9v.9h-.9zM60 88.6h.9v.9h-.9zM59.2 86.9h.9v.9h-.9zM60.5 86.8h.9v.9h-.9zM61.3 86.1h.9v.9h-.9zM63.6 89.1h.9v.9h-.9zM60 88.6h.9v.9h-.9zM63.7 86.6h.9v.9h-.9zM50.9 84h.9v.9h-.9zM50.8 88.4h.9v.9h-.9zM51.4 83.9h.9v.9h-.9zM49.8 84.6h.9v.9h-.9zM55.9 86.6h.9v.9h-.9zM42.3 88h.9v.9h-.9zM52.2 86.8h.9v.9h-.9zM60.2 88.7h.9v.9h-.9zM59 88.2h.9v.9h-.9zM48.8 88.4h.9v.9h-.9zM53.4 84.9h.9v.9h-.9zM56.1 85.3h.9v.9h-.9zM59.2 84.9h.9v.9h-.9zM58.4 87.4h.9v.9h-.9zM42.2 86.1h.9v.9h-.9zM49.5 85.4h.9v.9h-.9zM57.5 83.9h.9v.9h-.9zM51 85h.9v.9h-.9zM61.5 88.1h.9v.9h-.9zM58.5 86.7h.9v.9h-.9zM45.9 86.9h.9v.9h-.9zM50.9 86.3h.9v.9h-.9zM61.8 84.7h.9v.9h-.9zM59.5 85h.9v.9h-.9zM47.6 86.1h.9v.9h-.9zM54 87.3h.9v.9h-.9zM59.9 84.9h.9v.9h-.9zM45.3 86.4h.9v.9h-.9zM44.9 84.1h.9v.9h-.9zM58.7 86.5h.9v.9h-.9zM47.8 86.7h.9v.9h-.9zM60.7 86.2h.9v.9h-.9zM51.6 88.1h.9v.9h-.9zM59.3 84.1h.9v.9h-.9zM50.1 89.2h.9v.9h-.9zM50.2 83.6h.9v.9h-.9zM46.6 87.4h.9v.9h-.9zM48 84.4h.9v.9h-.9zM61.6 84.3h.9v.9h-.9zM49.8 83h.9v.9h-.9zM42.1 84.1h.9v.9h-.9zM59.2 83.5h.9v.9h-.9zM43.5 87.2h.9v.9h-.9zM55.2 88h.9v.9h-.9zM55.9 83.9h.9v.9h-.9zM55.9 87.6h.9v.9h-.9zM51.9 88.8h.9v.9h-.9zM50.8 84.2h.9v.9h-.9zM54.8 87.5h.9v.9h-.9zM48.6 84.7h.9v.9h-.9zM47 87.9h.9v.9h-.9zM46.4 89.9h.9v.9h-.9zM52.5 90.2h.9v.9h-.9zM61.4 86.6h.9v.9h-.9zM51.2 87.4h.9v.9h-.9zM58.3 86.8h.9v.9h-.9zM45.2 86.6h.9v.9h-.9zM61.8 89.3h.9v.9h-.9zM63.9 82.3h.9v.9h-.9zM52.8 86h.9v.9h-.9zM52.4 85.2h.9v.9h-.9zM49.3 83.9h.9v.9h-.9zM53.2 87.7h.9v.9h-.9zM47.5 84.7h.9v.9h-.9zM59.8 85.6h.9v.9h-.9zM53 85.7h.9v.9h-.9zM44.1 84h.9v.9h-.9zM42.3 86.8h.9v.9h-.9zM53.8 89.5h.9v.9h-.9zM42.7 87.4h.9v.9h-.9zM45.2 88.9h.9v.9h-.9zM51.1 86.6h.9v.9h-.9zM49 86.8h.9v.9h-.9zM56.9 86.4h.9v.9h-.9zM57.9 86.2h.9v.9h-.9zM61.3 84.4h.9v.9h-.9zM43.4 83.7h.9v.9h-.9zM63.3 86.9h.9v.9h-.9zM44.2 88.5h.9v.9h-.9zM44.6 83.5h.9v.9h-.9zM56.4 83.8h.9v.9h-.9zM51.5 89.3h.9v.9h-.9zM55.7 87.3h.9v.9h-.9zM47.9 87.5h.9v.9h-.9zM62.1 87h.9v.9h-.9zM49.9 83.6h.9v.9h-.9zM57.6 83.3h.9v.9h-.9zM59.8 87.4h.9v.9h-.9zM61.1 86.2h.9v.9h-.9zM63.4 86.5h.9v.9h-.9zM50.4 88.3h.9v.9h-.9zM59.6 89.9h.9v.9h-.9zM63.6 87.1h.9v.9h-.9zM59 86.2h.9v.9h-.9zM45.9 84.5h.9v.9h-.9zM55.3 84.5h.9v.9h-.9zM45.8 79.5h.9v.9h-.9zM57.3 85.9h.9v.9h-.9zM63.9 87.1h.9v.9h-.9zM58.9 86.6h.9v.9h-.9zM47.2 86.5h.9v.9h-.9zM51.8 89.4h.9v.9h-.9zM47.5 87.4h.9v.9h-.9zM44.9 86.7h.9v.9h-.9zM50.7 86.3h.9v.9h-.9zM42.7 86.5h.9v.9h-.9zM54.3 86.5h.9v.9h-.9zM42.1 87.3h.9v.9h-.9zM51.3 88.3h.9v.9h-.9zM43.9 86.8h.9v.9h-.9zM55.3 87.9h.9v.9h-.9zM47.8 85.3h.9v.9h-.9zM51.4 87.3h.9v.9h-.9zM53.8 87.9h.9v.9h-.9zM53.5 87.1h.9v.9h-.9zM58.1 87h.9v.9h-.9zM59.9 86.2h.9v.9h-.9zM47.7 86.7h.9v.9h-.9zM54.3 85.4h.9v.9h-.9zM42.9 86.8h.9v.9h-.9zM52.2 86.2h.9v.9h-.9zM45.6 85.8h.9v.9h-.9zM63 88.2h.9v.9h-.9zM52.2 84.1h.9v.9h-.9zM52.3 87.6h.9v.9h-.9zM45.5 89h.9v.9h-.9zM47.7 85.3h.9v.9h-.9zM53.1 86.4h.9v.9h-.9zM51 87.5h.9v.9h-.9zM44.6 85.7h.9v.9h-.9zM50.5 84.9h.9v.9h-.9zM43 84.8h.9v.9h-.9zM58.9 85.5h.9v.9h-.9zM48.7 85.5h.9v.9h-.9zM50.3 87.7h.9v.9h-.9zM55.4 87.5h.9v.9h-.9zM42.4 87.2h.9v.9h-.9zM57.1 85.1h.9v.9h-.9zM41.8 87h.9v.9h-.9zM59.4 84.3h.9v.9h-.9zM63.9 100.1h.9v.9h-.9zM61.4 92h.9v.9h-.9zM62.9 102.9h.9v.9h-.9zM61.3 92.3h.9v.9h-.9zM61.7 91.2h.9v.9h-.9zM64.3 111.4h.9v.9h-.9zM62.5 92.6h.9v.9h-.9zM63 112.8h.9v.9h-.9zM63.7 98.4h.9v.9h-.9zM64.9 108.2h.9v.9h-.9zM62.9 90.6h.9v.9h-.9zM65.5 92.8h.9v.9h-.9zM64.5 90.9h.9v.9h-.9zM64.4 110.1h.9v.9h-.9zM64 102.2h.9v.9h-.9zM62.5 109.3h.9v.9h-.9zM63.5 109.5h.9v.9h-.9zM62.4 105.1h.9v.9h-.9zM62.1 106.7h.9v.9h-.9zM64 103.2h.9v.9h-.9zM63.9 108.9h.9v.9h-.9zM65.7 102.8h.9v.9h-.9zM63.7 107.2h.9v.9h-.9zM62.2 97.8h.9v.9h-.9zM63.6 100.7h.9v.9h-.9zM62.9 105.5h.9v.9h-.9zM64.2 95.3h.9v.9h-.9zM63.7 101.8h.9v.9h-.9zM62.6 96.2h.9v.9h-.9zM62.2 97.1h.9v.9h-.9zM61.6 96.2h.9v.9h-.9zM61.9 94.4h.9v.9h-.9zM62.5 101.4h.9v.9h-.9zM64.6 99.5h.9v.9h-.9zM62.6 101.4h.9v.9h-.9zM65.1 91.9h.9v.9h-.9zM60 107.5h.9v.9h-.9zM63.3 88.2h.9v.9h-.9zM62.9 96.9h.9v.9h-.9zM62.4 88.1h.9v.9h-.9zM62.4 102.7h.9v.9h-.9zM63.4 104.3h.9v.9h-.9zM63.8 89.2h.9v.9h-.9zM61.8 102.4h.9v.9h-.9zM61.6 99.1h.9v.9h-.9zM62.7 94.6h.9v.9h-.9zM61.6 110.2h.9v.9h-.9zM62.4 104.9h.9v.9h-.9zM64.7 111h.9v.9h-.9zM61.5 98.9h.9v.9h-.9zM62.8 112.7h.9v.9h-.9zM60.3 95.2h.9v.9h-.9zM63.7 92.6h.9v.9h-.9zM63.1 94.1h.9v.9h-.9zM63.2 104.2h.9v.9h-.9zM62.7 101.4h.9v.9h-.9zM64.1 98h.9v.9h-.9zM63.1 101.8h.9v.9h-.9zM63.1 107.2h.9v.9h-.9zM62.8 93.8h.9v.9h-.9zM64.5 99.3h.9v.9h-.9zM62.2 109.7h.9v.9h-.9zM62.2 112.1h.9v.9h-.9zM64.5 95.1h.9v.9h-.9zM64 110.5h.9v.9h-.9zM64.9 98.8h.9v.9h-.9zM62.1 111.3h.9v.9h-.9zM63.6 92.3h.9v.9h-.9zM63.3 101.8h.9v.9h-.9zM62.3 103.6h.9v.9h-.9zM64.1 111.3h.9v.9h-.9zM64 108.7h.9v.9h-.9zM62.3 105.2h.9v.9h-.9zM63 103.6h.9v.9h-.9zM62.4 94.8h.9v.9h-.9zM64.8 93.1h.9v.9h-.9zM63.8 89h.9v.9h-.9zM64.4 99.7h.9v.9h-.9zM62.8 104.5h.9v.9h-.9zM63.7 92.7h.9v.9h-.9zM63.1 99.6h.9v.9h-.9zM63.6 88h.9v.9h-.9zM63.2 105.6h.9v.9h-.9zM63 91.6h.9v.9h-.9zM63.1 106.5h.9v.9h-.9zM62.2 88.7h.9v.9h-.9zM62.3 106.7h.9v.9h-.9zM63.4 110.4h.9v.9h-.9zM62 107.9h.9v.9h-.9zM64.4 108h.9v.9h-.9zM63.1 93.9h.9v.9h-.9zM61.3 108.5h.9v.9h-.9zM60.4 99.3h.9v.9h-.9zM63.7 110h.9v.9h-.9zM63.8 95.9h.9v.9h-.9zM61.1 100.1h.9v.9h-.9zM61.6 104.8h.9v.9h-.9zM63 112.7h.9v.9h-.9zM63.3 112h.9v.9h-.9zM62 104h.9v.9h-.9zM62.9 111.1h.9v.9h-.9zM62.1 103.9h.9v.9h-.9zM63.3 94.7h.9v.9h-.9zM61.6 91.6h.9v.9h-.9zM65.1 109.9h.9v.9h-.9zM63.1 94.7h.9v.9h-.9zM64.8 97.8h.9v.9h-.9zM62.7 100.7h.9v.9h-.9zM62.4 89.2h.9v.9h-.9zM62.7 102.8h.9v.9h-.9zM62.1 99h.9v.9h-.9zM59.8 88h.9v.9h-.9zM61.5 106.7h.9v.9h-.9zM64.5 93.1h.9v.9h-.9zM61.5 89.3h.9v.9h-.9zM64.1 99.9h.9v.9h-.9zM63 105.6h.9v.9h-.9zM63.8 97h.9v.9h-.9zM61.9 104.2h.9v.9h-.9zM62.1 89.5h.9v.9h-.9zM61.7 99.9h.9v.9h-.9zM62.7 112.4h.9v.9h-.9zM62.7 96.1h.9v.9h-.9zM61.8 107.8h.9v.9h-.9zM62.9 101.8h.9v.9h-.9zM63.2 102.7h.9v.9h-.9zM63.3 97.8h.9v.9h-.9zM61.7 98.8h.9v.9h-.9zM62.2 101.5h.9v.9h-.9zM61.8 108.3h.9v.9h-.9zM63.5 93.6h.9v.9h-.9zM62.1 94.9h.9v.9h-.9zM62.2 109.6h.9v.9h-.9zM63.7 111.1h.9v.9h-.9zM62.2 100.4h.9v.9h-.9zM60.8 88.2h.9v.9h-.9zM62.5 92.8h.9v.9h-.9zM62.8 111.5h.9v.9h-.9zM63.8 98.6h.9v.9h-.9zM62.3 93h.9v.9h-.9zM63.9 109.9h.9v.9h-.9zM61.3 88.5h.9v.9h-.9zM63.3 97.2h.9v.9h-.9zM62.5 94.3h.9v.9h-.9zM62.2 89.4h.9v.9h-.9zM61.7 102.6h.9v.9h-.9zM62.8 95.9h.9v.9h-.9zM61.5 104.8h.9v.9h-.9zM62.4 107.1h.9v.9h-.9zM61.6 90h.9v.9h-.9zM63.1 106.1h.9v.9h-.9zM60.8 105.8h.9v.9h-.9zM63.6 102h.9v.9h-.9zM64.5 112.7h.9v.9h-.9zM63.1 111.5h.9v.9h-.9zM62.5 111.5h.9v.9h-.9zM65.4 107.8h.9v.9h-.9zM63.4 98.6h.9v.9h-.9zM62.2 89.1h.9v.9h-.9zM61.9 93.2h.9v.9h-.9zM62.2 105.2h.9v.9h-.9zM65.3 98.7h.9v.9h-.9zM63.6 93h.9v.9h-.9zM63.1 95.6h.9v.9h-.9zM63.6 102.9h.9v.9h-.9zM64.8 109.8h.9v.9h-.9zM65.3 108.8h.9v.9h-.9zM64.4 89.3h.9v.9h-.9zM63.1 99.7h.9v.9h-.9zM62 109.9h.9v.9h-.9zM63.1 91.9h.9v.9h-.9zM62.7 107.1h.9v.9h-.9zM60.9 112.1h.9v.9h-.9zM62.1 93h.9v.9h-.9zM64.1 104.6h.9v.9h-.9zM64.2 111.4h.9v.9h-.9zM63.6 101.7h.9v.9h-.9zM63.8 93.7h.9v.9h-.9zM64.1 98.2h.9v.9h-.9zM61.7 109.5h.9v.9h-.9zM61.6 96h.9v.9h-.9zM61 112.5h.9v.9h-.9zM61.8 103.1h.9v.9h-.9zM62.4 111.2h.9v.9h-.9zM62.5 110h.9v.9h-.9zM61.6 95.4h.9v.9h-.9zM62.2 111.4h.9v.9h-.9zM62.3 105.2h.9v.9h-.9zM62.4 110.8h.9v.9h-.9zM64 90.8h.9v.9h-.9zM62.9 111.7h.9v.9h-.9zM63.8 111.9h.9v.9h-.9zM61.1 89.5h.9v.9h-.9zM63.4 95.3h.9v.9h-.9zM62.3 89.7h.9v.9h-.9zM64.5 112.5h.9v.9h-.9zM63 103h.9v.9h-.9zM61.7 90.7h.9v.9h-.9zM61.2 101.9h.9v.9h-.9zM63.8 101.4h.9v.9h-.9zM62.1 104.8h.9v.9h-.9zM65.4 101.2h.9v.9h-.9zM63.1 90.5h.9v.9h-.9zM62.2 106.6h.9v.9h-.9zM64.4 105h.9v.9h-.9zM61.5 102.1h.9v.9h-.9zM62.5 108.5h.9v.9h-.9zM63.3 103.5h.9v.9h-.9zM61.6 105.6h.9v.9h-.9zM63.5 101.7h.9v.9h-.9zM62.6 102.6h.9v.9h-.9zM64.1 105.2h.9v.9h-.9zM63.5 108.5h.9v.9h-.9zM61.2 109h.9v.9h-.9zM63.9 89.5h.9v.9h-.9zM64.4 100.2h.9v.9h-.9zM64.2 93.1h.9v.9h-.9zM63.6 89.6h.9v.9h-.9zM62.3 110h.9v.9h-.9zM62.4 89.9h.9v.9h-.9zM63.8 104.8h.9v.9h-.9zM62.9 93.5h.9v.9h-.9zM62.3 96.3h.9v.9h-.9zM61.8 103.3h.9v.9h-.9zM61.3 95.8h.9v.9h-.9zM61.5 91.8h.9v.9h-.9zM62.9 94.3h.9v.9h-.9zM62.6 99.7h.9v.9h-.9zM62.6 105.3h.9v.9h-.9zM62.7 112.1h.9v.9h-.9zM63.1 111.5h.9v.9h-.9zM62.5 104.2h.9v.9h-.9zM61.7 90.6h.9v.9h-.9zM62.7 105.2h.9v.9h-.9zM62.1 103.7h.9v.9h-.9zM63.8 111.1h.9v.9h-.9zM62.6 102h.9v.9h-.9zM62.9 106.1h.9v.9h-.9zM62.6 104.4h.9v.9h-.9zM62.2 91.7h.9v.9h-.9zM61.5 101.5h.9v.9h-.9zM63.6 91.1h.9v.9h-.9zM63.9 109.3h.9v.9h-.9zM61.2 89.7h.9v.9h-.9zM64 94.5h.9v.9h-.9zM62.8 104.8h.9v.9h-.9zM87.7 107.5h.9v.9h-.9zM83.1 79.6h.9v.9h-.9zM87.4 106.8h.9v.9h-.9zM87.1 88.5h.9v.9h-.9zM92.3 85.7h.9v.9h-.9zM76.3 99.4h.9v.9h-.9zM75.2 89.3h.9v.9h-.9zM87.1 111.7h.9v.9h-.9zM75.3 85.3h.9v.9h-.9zM84.1 78.8h.9v.9h-.9zM87.2 108.9h.9v.9h-.9zM75 102.1h.9v.9h-.9zM83 81h.9v.9h-.9zM76.1 96.7h.9v.9h-.9zM82 80.5h.9v.9h-.9zM84.6 77.4h.9v.9h-.9zM76.8 89.6h.9v.9h-.9zM85.1 80.3h.9v.9h-.9zM87.1 110.1h.9v.9h-.9zM88.3 88.3h.9v.9h-.9zM89.4 106.2h.9v.9h-.9zM78 107.5h.9v.9h-.9zM76.5 84.2h.9v.9h-.9zM80.5 81.8h.9v.9h-.9zM76.9 111.7h.9v.9h-.9zM88.6 106.3h.9v.9h-.9zM90.3 109.9h.9v.9h-.9zM76.1 82.1h.9v.9h-.9zM87.6 82.8h.9v.9h-.9zM76.4 80.8h.9v.9h-.9zM87.6 89.6h.9v.9h-.9zM77.8 78.4h.9v.9h-.9zM76.9 102.5h.9v.9h-.9zM76.5 85.8h.9v.9h-.9zM75.6 92h.9v.9h-.9zM85.8 80h.9v.9h-.9zM91.1 110.5h.9v.9h-.9zM87.1 99.4h.9v.9h-.9zM84.4 83.2h.9v.9h-.9zM89.2 80.1h.9v.9h-.9zM84.2 81.3h.9v.9h-.9zM75.9 109.7h.9v.9h-.9zM88.8 88.6h.9v.9h-.9zM79.8 80.2h.9v.9h-.9zM78.7 76.6h.9v.9h-.9zM76.3 81.4h.9v.9h-.9zM76.5 99.1h.9v.9h-.9zM83.2 81.3h.9v.9h-.9zM84.6 78.4h.9v.9h-.9zM86.4 82.3h.9v.9h-.9zM75.3 88.3h.9v.9h-.9zM81 81.2h.9v.9h-.9zM86.3 80.6h.9v.9h-.9zM88.9 81.7h.9v.9h-.9zM79.6 79.1h.9v.9h-.9zM87.8 100.6h.9v.9h-.9zM87.4 108.2h.9v.9h-.9zM87.1 100.8h.9v.9h-.9zM82.9 78.4h.9v.9h-.9zM88.8 81.8h.9v.9h-.9zM87 92.2h.9v.9h-.9zM76.5 93.7h.9v.9h-.9zM77.8 108.1h.9v.9h-.9zM87.9 110.2h.9v.9h-.9zM87.5 84.8h.9v.9h-.9zM85.1 82.1h.9v.9h-.9zM84.8 82.9h.9v.9h-.9zM79.3 80.7h.9v.9h-.9zM76.9 90h.9v.9h-.9zM77.6 79.7h.9v.9h-.9zM84.4 81.7h.9v.9h-.9zM77.9 81.4h.9v.9h-.9zM76 95.7h.9v.9h-.9zM75.9 92.5h.9v.9h-.9zM87.2 102.5h.9v.9h-.9zM76.5 80.1h.9v.9h-.9zM75.3 104.9h.9v.9h-.9zM75.8 85.3h.9v.9h-.9zM75.3 109.1h.9v.9h-.9zM82.3 78.6h.9v.9h-.9zM88.1 87.5h.9v.9h-.9zM89 103.5h.9v.9h-.9zM75.7 93.2h.9v.9h-.9zM78.5 80.2h.9v.9h-.9zM87.4 92.9h.9v.9h-.9zM76.7 109.4h.9v.9h-.9zM87 107.3h.9v.9h-.9zM77.1 78.7h.9v.9h-.9zM78.9 82.1h.9v.9h-.9zM76.2 111.6h.9v.9h-.9zM76.2 82h.9v.9h-.9zM82.5 81.5h.9v.9h-.9zM88.1 84.4h.9v.9h-.9zM87.8 81.2h.9v.9h-.9zM76.7 81.4h.9v.9h-.9zM76.1 81.9h.9v.9h-.9zM83.6 81.6h.9v.9h-.9zM89.2 105.3h.9v.9h-.9zM88.9 104.8h.9v.9h-.9zM88.4 109.6h.9v.9h-.9zM81.5 80h.9v.9h-.9zM85.9 78.5h.9v.9h-.9zM89.4 99.5h.9v.9h-.9zM77 81.6h.9v.9h-.9zM87.8 111.5h.9v.9h-.9zM86.6 79.8h.9v.9h-.9zM76.1 83.3h.9v.9h-.9zM87.3 105.2h.9v.9h-.9zM77.7 81.5h.9v.9h-.9zM87.1 105.3h.9v.9h-.9zM75.5 97.6h.9v.9h-.9zM74.9 83.1h.9v.9h-.9zM84.9 80.9h.9v.9h-.9zM87.6 100.7h.9v.9h-.9zM78.7 78.2h.9v.9h-.9zM79 82.8h.9v.9h-.9zM86.7 80.8h.9v.9h-.9zM83.6 81.4h.9v.9h-.9zM88.1 81.9h.9v.9h-.9zM76.4 95.2h.9v.9h-.9zM76.7 79.7h.9v.9h-.9zM76.6 110.7h.9v.9h-.9zM88.2 110.2h.9v.9h-.9zM90.4 90.1h.9v.9h-.9zM76.6 88h.9v.9h-.9zM87.6 93.2h.9v.9h-.9zM88.7 99.7h.9v.9h-.9zM87.6 112h.9v.9h-.9zM87.6 80.6h.9v.9h-.9zM74.8 90.1h.9v.9h-.9zM82.2 79.5h.9v.9h-.9zM80.8 80.8h.9v.9h-.9zM76.7 90.8h.9v.9h-.9zM77 103h.9v.9h-.9zM88.9 107.2h.9v.9h-.9zM75.8 93.8h.9v.9h-.9zM86.8 79.7h.9v.9h-.9zM87.1 86.4h.9v.9h-.9zM75 104.4h.9v.9h-.9zM84.1 81.9h.9v.9h-.9zM87.2 93.5h.9v.9h-.9zM87.1 96.9h.9v.9h-.9zM76.6 79.9h.9v.9h-.9zM88.5 104h.9v.9h-.9zM86.7 79.1h.9v.9h-.9zM84.2 80.8h.9v.9h-.9zM83.4 80.6h.9v.9h-.9zM77.8 81.5h.9v.9h-.9zM88.3 99.7h.9v.9h-.9zM84.1 80.8h.9v.9h-.9zM87.9 108.9h.9v.9h-.9zM87 80.1h.9v.9h-.9zM88.1 106.8h.9v.9h-.9zM77 81.5h.9v.9h-.9zM86.4 80.8h.9v.9h-.9zM88.5 85.9h.9v.9h-.9zM88 110.4h.9v.9h-.9zM76.6 82.1h.9v.9h-.9zM87 82.8h.9v.9h-.9zM76.5 99.6h.9v.9h-.9zM89 88.6h.9v.9h-.9zM77.1 80.2h.9v.9h-.9zM87.5 107.4h.9v.9h-.9zM88.2 101.8h.9v.9h-.9zM88.8 106.2h.9v.9h-.9zM81.8 79.6h.9v.9h-.9zM88.7 100h.9v.9h-.9zM90.1 97h.9v.9h-.9zM87.1 81.6h.9v.9h-.9zM77.9 82.9h.9v.9h-.9zM82 80.5h.9v.9h-.9zM80.2 81.2h.9v.9h-.9zM81.8 82h.9v.9h-.9zM76.5 100.3h.9v.9h-.9zM75.2 109.2h.9v.9h-.9zM81.2 80.6h.9v.9h-.9zM85.6 80.1h.9v.9h-.9zM90.8 85.6h.9v.9h-.9zM75.9 104.7h.9v.9h-.9zM87.2 108.1h.9v.9h-.9zM81.3 82h.9v.9h-.9zM78 82h.9v.9h-.9zM85.1 82.4h.9v.9h-.9zM76.4 80.6h.9v.9h-.9zM84.8 82.3h.9v.9h-.9zM86.8 82.5h.9v.9h-.9zM87.5 82h.9v.9h-.9zM80.6 82h.9v.9h-.9zM82.2 81.5h.9v.9h-.9zM89.2 103h.9v.9h-.9zM81.8 78.1h.9v.9h-.9zM84.9 83.7h.9v.9h-.9zM79 81.2h.9v.9h-.9zM87.3 106.6h.9v.9h-.9zM81.1 79.2h.9v.9h-.9zM87.6 86.2h.9v.9h-.9zM83.7 78.4h.9v.9h-.9zM87.8 88.1h.9v.9h-.9zM79.4 80h.9v.9h-.9zM81.2 81.5h.9v.9h-.9zM79.8 83h.9v.9h-.9zM89.2 86h.9v.9h-.9zM83.2 81.6h.9v.9h-.9zM87.4 97.2h.9v.9h-.9zM76.5 95.1h.9v.9h-.9zM77 92.4h.9v.9h-.9zM89.4 88.1h.9v.9h-.9zM84.9 84.2h.9v.9h-.9zM79.9 82.4h.9v.9h-.9zM88.9 95.5h.9v.9h-.9zM87.5 81h.9v.9h-.9zM84.6 79.8h.9v.9h-.9zM88.3 108.4h.9v.9h-.9zM88.2 83.7h.9v.9h-.9zM77.3 89.2h.9v.9h-.9zM77.1 87.8h.9v.9h-.9zM89.3 80.6h.9v.9h-.9zM86.2 82.3h.9v.9h-.9zM76.2 80.6h.9v.9h-.9zM78.2 82.1h.9v.9h-.9zM88 105.4h.9v.9h-.9zM87.9 93.6h.9v.9h-.9zM89.6 103.4h.9v.9h-.9zM81.5 81.4h.9v.9h-.9zM88.4 86.4h.9v.9h-.9zM77.9 79.2h.9v.9h-.9zM87.2 99.7h.9v.9h-.9zM85.2 83.8h.9v.9h-.9zM86.3 81.3h.9v.9h-.9zM82.1 78.8h.9v.9h-.9zM84.9 80h.9v.9h-.9zM89.3 106.6h.9v.9h-.9zM75.3 97.9h.9v.9h-.9zM88.1 97.7h.9v.9h-.9zM86 82.1h.9v.9h-.9zM87.7 92.2h.9v.9h-.9zM84 82.1h.9v.9h-.9zM79.5 78h.9v.9h-.9zM76.1 89.1h.9v.9h-.9zM78.5 81.7h.9v.9h-.9zM76.6 104.3h.9v.9h-.9zM77.4 104.2h.9v.9h-.9zM88.3 111.2h.9v.9h-.9zM77.9 78.5h.9v.9h-.9zM88.4 84.4h.9v.9h-.9zM88.3 84.1h.9v.9h-.9zM76.4 83h.9v.9h-.9zM75.8 90.6h.9v.9h-.9zM76 97.9h.9v.9h-.9zM87.9 83.3h.9v.9h-.9zM77.1 104.8h.9v.9h-.9zM84.8 78.2h.9v.9h-.9zM84 79.9h.9v.9h-.9zM75.6 108.4h.9v.9h-.9zM84.7 80.2h.9v.9h-.9zM76.3 107h.9v.9h-.9zM88.7 82.8h.9v.9h-.9zM76.4 95.8h.9v.9h-.9zM76.6 110.1h.9v.9h-.9zM75.9 86.1h.9v.9h-.9zM85.8 80.4h.9v.9h-.9zM88.7 81.4h.9v.9h-.9zM86.6 79.1h.9v.9h-.9zM89.7 111.6h.9v.9h-.9zM83.1 79.8h.9v.9h-.9zM89 80.1h.9v.9h-.9zM78 81.2h.9v.9h-.9zM88 109h.9v.9h-.9zM88.2 85.2h.9v.9h-.9zM76 106.3h.9v.9h-.9zM87.4 84.8h.9v.9h-.9zM77.8 80.7h.9v.9h-.9zM87.6 97.6h.9v.9h-.9zM80.4 82.2h.9v.9h-.9zM88.8 95.4h.9v.9h-.9zM76.8 82.5h.9v.9h-.9zM78 82.3h.9v.9h-.9zM88 86.7h.9v.9h-.9zM76.4 105.6h.9v.9h-.9zM88.1 98.2h.9v.9h-.9zM87.5 94.7h.9v.9h-.9zM88.3 93.1h.9v.9h-.9zM87.4 98.3h.9v.9h-.9zM87.7 93.7h.9v.9h-.9zM76.6 96h.9v.9h-.9zM87.2 101.7h.9v.9h-.9zM87.2 80.2h.9v.9h-.9zM75.5 88.3h.9v.9h-.9zM81.3 80.5h.9v.9h-.9zM76.5 89.9h.9v.9h-.9zM79.3 81.5h.9v.9h-.9zM84 83h.9v.9h-.9zM89 84.7h.9v.9h-.9zM87.5 83.3h.9v.9h-.9zM87.3 100.8h.9v.9h-.9zM77.1 93.6h.9v.9h-.9zM85 80.9h.9v.9h-.9zM75 97.4h.9v.9h-.9zM82.3 81.9h.9v.9h-.9zM78.3 81.4h.9v.9h-.9zM85.4 81.9h.9v.9h-.9zM76.3 86.2h.9v.9h-.9zM75.8 88.1h.9v.9h-.9zM77.3 92.6h.9v.9h-.9zM87.7 80.8h.9v.9h-.9zM82.5 80.3h.9v.9h-.9zM87.4 98.4h.9v.9h-.9zM87.4 95.5h.9v.9h-.9zM81.7 80.6h.9v.9h-.9zM88.7 105.4h.9v.9h-.9zM87.9 83h.9v.9h-.9zM79.7 81.8h.9v.9h-.9zM82.9 81.7h.9v.9h-.9zM87.3 107.7h.9v.9h-.9zM87.8 104.4h.9v.9h-.9zM87.4 104.5h.9v.9h-.9zM85.1 81.4h.9v.9h-.9zM84.5 79.9h.9v.9h-.9zM79.4 81h.9v.9h-.9zM83.2 80.4h.9v.9h-.9zM87.6 99.8h.9v.9h-.9zM89.2 101.7h.9v.9h-.9zM82.5 79h.9v.9h-.9zM89 111.3h.9v.9h-.9zM85.4 83h.9v.9h-.9zM86.7 81.2h.9v.9h-.9zM86.7 81.5h.9v.9h-.9zM81.1 80.5h.9v.9h-.9zM84.6 80.4h.9v.9h-.9zM89 84.8h.9v.9h-.9zM86.4 81.7h.9v.9h-.9zM86.9 80.1h.9v.9h-.9zM83.3 77.3h.9v.9h-.9zM76.9 92.1h.9v.9h-.9zM84.3 81.3h.9v.9h-.9zM76.9 95.1h.9v.9h-.9zM87.1 105.6h.9v.9h-.9zM88.5 89.6h.9v.9h-.9zM87.9 106h.9v.9h-.9zM79.1 80.9h.9v.9h-.9zM89.8 89.2h.9v.9h-.9zM87.8 83.3h.9v.9h-.9zM76.5 111.5h.9v.9h-.9zM76.2 84.9h.9v.9h-.9zM74.9 97h.9v.9h-.9zM80.1 80.4h.9v.9h-.9zM75.7 94.3h.9v.9h-.9zM87.5 95h.9v.9h-.9zM76.2 102.1h.9v.9h-.9zM85.7 80.9h.9v.9h-.9zM87.4 82.9h.9v.9h-.9zM76.2 103.7h.9v.9h-.9zM76.2 111h.9v.9h-.9zM89.1 105.2h.9v.9h-.9zM77.5 79.9h.9v.9h-.9zM87.3 78.7h.9v.9h-.9zM80.7 79.3h.9v.9h-.9zM87.5 109.5h.9v.9h-.9zM87.4 109.4h.9v.9h-.9zM88.7 88.7h.9v.9h-.9zM81.6 81.3h.9v.9h-.9zM87.6 109.4h.9v.9h-.9zM87.9 80.3h.9v.9h-.9zM76.9 80.4h.9v.9h-.9zM76 86.8h.9v.9h-.9zM89.1 91.2h.9v.9h-.9zM88.7 80.8h.9v.9h-.9zM74.4 84.7h.9v.9h-.9zM75.3 100.9h.9v.9h-.9zM76.5 95.5h.9v.9h-.9zM87.4 96.9h.9v.9h-.9zM88.8 98.1h.9v.9h-.9zM78.2 79.7h.9v.9h-.9zM77.8 79.8h.9v.9h-.9zM89.9 83h.9v.9h-.9zM76.8 108.3h.9v.9h-.9zM89.8 84.9h.9v.9h-.9zM74.4 88.4h.9v.9h-.9zM75.6 82.9h.9v.9h-.9zM81.3 80.6h.9v.9h-.9zM89.7 89.4h.9v.9h-.9zM88.4 89.9h.9v.9h-.9zM91.7 83.1h.9v.9h-.9zM88.9 80.5h.9v.9h-.9zM93.4 107h.9v.9h-.9zM91.6 80.7h.9v.9h-.9zM94.2 98.1h.9v.9h-.9zM88 77.4h.9v.9h-.9zM94 94.9h.9v.9h-.9zM92.2 81.7h.9v.9h-.9zM89.9 97.9h.9v.9h-.9zM96.5 88.1h.9v.9h-.9zM89.5 86.9h.9v.9h-.9zM94.7 102.4h.9v.9h-.9zM92.1 93.8h.9v.9h-.9zM94.5 87.3h.9v.9h-.9zM89.3 86h.9v.9h-.9zM90.4 85.5h.9v.9h-.9zM89.7 94.3h.9v.9h-.9zM94.1 104.5h.9v.9h-.9zM88.8 101.9h.9v.9h-.9zM95.3 82.5h.9v.9h-.9zM88.5 102.4h.9v.9h-.9zM90.8 83.1h.9v.9h-.9zM91.2 94.4h.9v.9h-.9zM92.5 102h.9v.9h-.9zM89.7 89h.9v.9h-.9zM90.2 110.4h.9v.9h-.9zM92.5 80.5h.9v.9h-.9zM88.8 107.8h.9v.9h-.9zM97.2 109.6h.9v.9h-.9zM89 83.5h.9v.9h-.9zM96.9 99.3h.9v.9h-.9zM90.2 82.6h.9v.9h-.9zM91.5 76.4h.9v.9h-.9zM89.3 79.1h.9v.9h-.9zM94.4 94.9h.9v.9h-.9zM90.5 101.3h.9v.9h-.9zM92.1 101.5h.9v.9h-.9zM89.5 99.9h.9v.9h-.9zM88.5 89.8h.9v.9h-.9zM91.7 95.1h.9v.9h-.9zM91.9 97.9h.9v.9h-.9zM88.3 104.4h.9v.9h-.9zM91.5 109.3h.9v.9h-.9zM88.1 107.5h.9v.9h-.9zM97.8 105.4h.9v.9h-.9zM91.2 79.6h.9v.9h-.9zM97.7 88.1h.9v.9h-.9zM93.1 77.6h.9v.9h-.9zM94.8 83.7h.9v.9h-.9zM93.5 89.5h.9v.9h-.9zM88.1 86.6h.9v.9h-.9zM88.1 95.2h.9v.9h-.9zM88.1 87.5h.9v.9h-.9zM94.3 107.2h.9v.9h-.9zM93.3 92.6h.9v.9h-.9zM90.3 97h.9v.9h-.9zM90 98.5h.9v.9h-.9zM88.9 85.2h.9v.9h-.9zM88.6 92.1h.9v.9h-.9zM91.1 93.7h.9v.9h-.9zM88.2 93.3h.9v.9h-.9zM90.6 101.5h.9v.9h-.9zM93.7 107.4h.9v.9h-.9zM88.5 100.5h.9v.9h-.9zM95 111h.9v.9h-.9zM90.3 93h.9v.9h-.9zM89 106.3h.9v.9h-.9zM95.1 96h.9v.9h-.9z" fill="#111"/>
<path d="M41.3 87.8 L42.2 87.9 L43.2 87.8 L44.1 88 L45.1 87.3 L46 87.5 L46.9 85.4 L47.7 86.6 L48.6 87.8 L49.4 87.1 L50.3 87.8 L51.1 86 L52 86.9 L52.8 86.5 L53.7 87.3 L54.5 87.4 L55.3 86.2 L56.2 86.7 L57 87 L57.9 88.7 L58.8 88.6 L59.6 87.4 L62.2 89 L60.8 89.9 L62.1 90.7 L61 91.6 L60.9 92.4 L63.1 93.3 L61.7 94.1 L61.8 95 L63.7 95.8 L63.4 96.6 L62.1 97.5 L63.7 98.3 L62.7 99.1 L63.1 99.9 L62 100.7 L63.8 101.5 L63.2 102.4 L63.9 103.2 L63.7 104 L62.3 104.9 L62.4 105.7 L61.9 106.6 L61.8 107.4 L61.5 108.3 L62.1 109.1 L62.7 110 L61.2 110.8 L62.7 111.6 L61.7 112.4 L62 113.2 L41.3 113.2Z M76.8 83.2 L77.9 82.8 L79 81.5 L80 81.2 L81 80.8 L82 82.6 L83 82 L84 82.6 L85 81.5 L87.2 84 L86.1 84.8 L87.4 85.6 L87.2 86.4 L86.5 87.2 L86.8 88 L87.2 88.8 L86 89.6 L86.9 90.4 L87.5 91.2 L86.2 92 L87.5 92.8 L87.2 93.6 L87.6 94.4 L86.3 95.2 L85.7 96 L87.4 96.8 L87.4 97.6 L86.5 98.4 L85.6 99.2 L85.9 100 L86.9 100.8 L86 101.6 L87.6 102.4 L86.7 103.2 L85.7 104 L86.8 104.8 L86.1 105.6 L87.4 106.4 L87.3 107.2 L86.3 108 L86.6 108.9 L86.6 109.8 L86.8 110.6 L86 111.5 L76.8 111.5Z" fill="#0a0a0a"/>
<rect x="40.8" y="10.5" width="95.7" height="103.1" fill="none" stroke="#444" stroke-width="1.2"/>
<path d="M40.8 113.6h-1.5M40.8 111h-1.5M40.8 108.4h-1.5M40.8 105.8h-1.5M40.8 103.2h-1.5M40.8 100.6h-1.5M40.8 98h-1.5M40.8 95.4h-1.5M40.8 92.8h-1.5M40.8 90.2h-1.5M40.8 87.6h-1.5M40.8 85h-1.5M40.8 82.4h-1.5M40.8 79.8h-1.5M40.8 77.2h-1.5M40.8 74.6h-1.5M40.8 72h-1.5M40.8 69.4h-1.5M40.8 66.8h-1.5M40.8 64.2h-1.5M40.8 61.6h-1.5M40.8 59h-1.5M40.8 56.4h-1.5M40.8 53.8h-1.5M40.8 51.2h-1.5M40.8 48.6h-1.5M40.8 46h-1.5M40.8 43.4h-1.5M40.8 40.8h-1.5M40.8 38.2h-1.5M40.8 35.6h-1.5M40.8 33h-1.5M40.8 30.4h-1.5M40.8 27.8h-1.5M40.8 25.2h-1.5M40.8 22.6h-1.5M40.8 20h-1.5M40.8 17.4h-1.5M40.8 14.8h-1.5M40.8 12.2h-1.5" stroke="#555" stroke-width="0.6"/>
<line x1="40.5" y1="10.5" x2="40.5" y2="113.6" stroke="#222" stroke-width="1.6"/>
<path d="M43.3 113.6v3M45.7 113.6v3M47.6 113.6v3M49.2 113.6v3M50.6 113.6v3M51.9 113.6v3M53 113.6v5M60.3 113.6v3M64.6 113.6v3M67.6 113.6v3M70 113.6v3M71.9 113.6v3M73.5 113.6v3M74.9 113.6v3M76.2 113.6v3M77.3 113.6v5M84.6 113.6v3M88.9 113.6v3M91.9 113.6v3M94.3 113.6v3M96.2 113.6v3M97.8 113.6v3M99.2 113.6v3M100.5 113.6v3M101.6 113.6v5M108.9 113.6v3M113.2 113.6v3M116.2 113.6v3M118.6 113.6v3M120.5 113.6v3M122.1 113.6v3M123.5 113.6v3M124.8 113.6v3M125.9 113.6v5M133.2 113.6v3" stroke="#2a2a2a" stroke-width="1" fill="none"/>
<text x="54" y="127.9" font-size="7" fill="#444" text-anchor="middle">10<tspan dy="-3" font-size="5">2</tspan></text>
<text x="78.3" y="127.9" font-size="7" fill="#444" text-anchor="middle">10<tspan dy="-3" font-size="5">3</tspan></text>
<text x="102.6" y="127.9" font-size="7" fill="#444" text-anchor="middle">10<tspan dy="-3" font-size="5">4</tspan></text>
<text x="126.9" y="127.9" font-size="7" fill="#444" text-anchor="middle">10<tspan dy="-3" font-size="5">5</tspan></text>
<text x="36" y="34" font-size="14" font-weight="bold" fill="#000" text-anchor="middle" transform="rotate(-90 36 34)">V&#948;2</text>
<text x="117.5" y="139.2" font-size="12.5" font-weight="bold" fill="#000" text-anchor="middle">pan&#947;&#948;</text>
<rect x="74.8" y="78" width="26" height="34.6" fill="none" stroke="#8a8a8a" stroke-width="1.8"/>
<line x1="104" y1="88" x2="149" y2="88" stroke="#8a8a8a" stroke-width="1.8"/>
<path d="M147 84.5 L153 88 L147 91.5" fill="none" stroke="#8a8a8a" stroke-width="1.8"/>
<path d="M169.8 113.8 L169.8 69.2 L170.1 66.9 L170.4 68.1 L170.7 58.4 L171 55.4 L171.3 53.9 L171.6 45.5 L171.9 47.6 L172.2 46.7 L172.5 46.5 L172.8 34.7 L173.1 36 L173.4 31.4 L173.7 39.4 L174 36 L174.3 26.6 L174.6 38 L174.9 36.9 L175.2 31.9 L175.5 30.5 L175.8 23.7 L176.1 20.7 L176.4 26.6 L176.7 18.7 L177 19.4 L177.3 19 L177.6 14.3 L177.9 20.4 L178.2 20.2 L178.5 27.4 L178.8 23 L179.1 25.5 L179.4 24.3 L179.7 27.1 L180 25.3 L180.3 23.9 L180.6 32.6 L180.9 33.2 L181.2 32 L181.5 31.2 L181.8 27.7 L182.1 28.1 L182.4 31.1 L182.7 31.6 L183 39.6 L183.3 39 L183.6 44.2 L183.9 43.5 L184.2 49.9 L184.5 52.8 L184.8 52.4 L185.1 57.2 L185.4 63.6 L185.7 65.7 L186 70.8 L186.3 72.2 L186.6 74.3 L186.9 78.8 L187.2 82.2 L187.5 84 L187.8 86.6 L188.1 89.9 L188.4 93.2 L188.7 94.7 L189 95.5 L189.3 97.7 L189.6 99.5 L189.9 101.4 L190.2 103.9 L190.5 104.4 L190.8 106 L191.1 107.1 L191.4 108.1 L191.7 109.8 L192 110.6 L192.3 111.5 L192.6 111.9 L192.9 112.6 L193.2 113.2 L193.5 113.8 Z" fill="#e5e5e5" stroke="#8e8e8e" stroke-width="0.55" stroke-linejoin="miter"/>
<path d="M170 70.9 L170.3 76 L170.6 70.9 L170.9 61 L171.2 66.1 L171.5 54 L171.8 54 L172.1 57.9 L172.4 52.3 L172.7 42.5 L173 52.8 L173.3 40.5 L173.6 39.3 L173.9 44 L174.2 37 L174.5 35.7 L174.8 32 L175.1 31.3 L175.4 36.6 L175.7 31.4 L176 35 L176.3 31.3 L176.6 31.6 L176.9 38.2 L177.2 30.6 L177.5 31.3 L177.8 35.4 L178.1 23.6 L178.4 23.7 L178.7 35.7 L179 34.4 L179.3 27 L179.6 26.8 L179.9 33.8 L180.2 36.4 L180.5 28.7 L180.8 37.4 L181.1 37.1 L181.4 34.7 L181.7 33.4 L182 30.8 L182.3 32.1 L182.6 42.3 L182.9 38.1 L183.2 43.7 L183.5 42.4 L183.8 48 L184.1 48.7 L184.4 50.6 L184.7 53.6 L185 59.6" fill="none" stroke="#a6a6a6" stroke-width="0.5"/>
<line x1="178" y1="10.5" x2="178" y2="40" stroke="#c8c8c8" stroke-width="0.8"/><path d="M200 113.8 L201.5 111 L203 108.8 L204.3 110 L205.5 107.5 L206.5 106.3 L207.5 108.5 L209 110.5 L210.5 112.5 L211.5 113.8 Z" fill="#e5e5e5" stroke="#999" stroke-width="0.7"/>
<rect x="169.6" y="10.2" width="94.6" height="103.6" fill="none" stroke="#333" stroke-width="0.9"/>
<line x1="198.3" y1="10.2" x2="198.3" y2="113.8" stroke="#222" stroke-width="1"/>
<path d="M169.6 113.8h-3.2M169.6 108h-2.6M169.6 102.1h-2.6M169.6 96.3h-2.6M169.6 90.4h-2.6M169.6 84.6h-3.2M169.6 78.8h-2.6M169.6 72.9h-2.6M169.6 67.1h-2.6M169.6 61.2h-2.6M169.6 55.4h-3.2M169.6 49.6h-2.6M169.6 43.7h-2.6M169.6 37.9h-2.6M169.6 32h-2.6M169.6 26.2h-3.2M169.6 20.4h-2.6M169.6 14.5h-2.6" stroke="#333" stroke-width="0.9"/>
<text x="164.6" y="113.8" font-size="6.5" fill="#444" text-anchor="middle" transform="rotate(-90 164.6 113.8)">0</text>
<text x="164.6" y="85" font-size="6.5" fill="#444" text-anchor="middle" transform="rotate(-90 164.6 85)">50</text>
<text x="164.6" y="56.2" font-size="6.5" fill="#444" text-anchor="middle" transform="rotate(-90 164.6 56.2)">100</text>
<text x="164.6" y="27.2" font-size="6.5" fill="#444" text-anchor="middle" transform="rotate(-90 164.6 27.2)">150</text>
<path d="M172.6 113.8v3M175 113.8v3M176.9 113.8v3M178.5 113.8v3M179.9 113.8v3M181.2 113.8v3M182.3 113.8v5M189.6 113.8v3M193.9 113.8v3M196.9 113.8v3M199.3 113.8v3M201.2 113.8v3M202.8 113.8v3M204.2 113.8v3M205.5 113.8v3M206.6 113.8v5M213.9 113.8v3M218.2 113.8v3M221.2 113.8v3M223.6 113.8v3M225.5 113.8v3M227.1 113.8v3M228.5 113.8v3M229.8 113.8v3M230.9 113.8v5M238.2 113.8v3M242.5 113.8v3M245.5 113.8v3M247.9 113.8v3M249.8 113.8v3M251.4 113.8v3M252.8 113.8v3M254.1 113.8v3M255.2 113.8v5M262.5 113.8v3" stroke="#2a2a2a" stroke-width="1" fill="none"/>
<text x="183.3" y="128.1" font-size="7" fill="#444" text-anchor="middle">10<tspan dy="-3" font-size="5">2</tspan></text>
<text x="207.6" y="128.1" font-size="7" fill="#444" text-anchor="middle">10<tspan dy="-3" font-size="5">3</tspan></text>
<text x="231.9" y="128.1" font-size="7" fill="#444" text-anchor="middle">10<tspan dy="-3" font-size="5">4</tspan></text>
<text x="256.2" y="128.1" font-size="7" fill="#444" text-anchor="middle">10<tspan dy="-3" font-size="5">5</tspan></text>
<text x="236.5" y="138.8" font-size="12.5" font-weight="bold" fill="#000" text-anchor="middle">Isotype</text>
<path d="M288.4 113.3 L288.4 82.4 L288.7 86.6 L289 82.4 L289.3 76.7 L289.6 69.1 L289.9 74.8 L290.2 73.3 L290.5 67.8 L290.8 66.9 L291.1 62.2 L291.4 58.2 L291.7 62.6 L292 64.6 L292.3 58.2 L292.6 68 L292.9 60.9 L293.2 61.2 L293.5 59.1 L293.8 71.8 L294.1 67.8 L294.4 67.3 L294.7 61.4 L295 51 L295.3 52.6 L295.6 52.5 L295.9 44.5 L296.2 54.8 L296.5 44.8 L296.8 40.2 L297.1 48.4 L297.4 36.8 L297.7 47 L298 38.6 L298.3 39 L298.6 34.9 L298.9 36.1 L299.2 30.2 L299.5 26.6 L299.8 39.6 L300.1 28.2 L300.4 37.5 L300.7 28.1 L301 40.5 L301.3 39.2 L301.6 37 L301.9 37.1 L302.2 35.1 L302.5 38.1 L302.8 30.8 L303.1 36.5 L303.4 41.9 L303.7 35.2 L304 44.7 L304.3 45.8 L304.6 41.9 L304.9 42.9 L305.2 45.4 L305.5 46.3 L305.8 54.1 L306.1 49.4 L306.4 47.5 L306.7 49.7 L307 57.3 L307.3 61.3 L307.6 58.3 L307.9 59.8 L308.2 61.8 L308.5 65 L308.8 62.2 L309.1 66.9 L309.4 68 L309.7 70 L310 68.3 L310.3 69.8 L310.6 72.7 L310.9 78.1 L311.2 75.8 L311.5 78.9 L311.8 78.7 L312.1 78.9 L312.4 79.8 L312.7 84.8 L313 85.4 L313.3 84.4 L313.6 86.8 L313.9 87.6 L314.2 89.3 L314.5 90.3 L314.8 88.5 L315.1 91.7 L315.4 92.3 L315.7 91.3 L316 93.2 L316.3 92.2 L316.6 92.3 L316.9 92.2 L317.2 95.4 L317.5 92.9 L317.8 93 L318.1 96.5 L318.4 96.8 L318.7 96.2 L319 98 L319.3 95.5 L319.6 96.8 L319.9 97.4 L320.2 98.3 L320.5 97.8 L320.8 97.8 L321.1 99.1 L321.4 101.3 L321.7 101.9 L322 101.5 L322.3 101 L322.6 100.7 L322.9 103.2 L323.2 102.2 L323.5 103.1 L323.8 101.5 L324.1 102.3 L324.4 104.3 L324.7 104.5 L325 105 L325.3 104.6 L325.6 104.5 L325.9 105.2 L326.2 106 L326.5 105.1 L326.8 105.8 L327.1 105.5 L327.4 106.7 L327.7 105.5 L328 107 L328.3 107.7 L328.6 106.3 L328.9 107.5 L329.2 107.8 L329.5 108.4 L329.8 108.2 L330.1 107.9 L330.4 108.2 L330.7 109.1 L331 109.1 L331.3 108.2 L331.6 108.2 L331.9 108.3 L332.2 108.3 L332.5 109 L332.8 108.7 L333.1 109.8 L333.4 109.6 L333.7 109 L334 109.6 L334.3 109.5 L334.6 109.8 L334.9 109.6 L335.2 109.6 L335.5 109.7 L335.8 110.1 L336.1 110.5 L336.4 110.4 L336.7 109.9 L337 110.7 L337.3 110.9 L337.6 110.8 L337.9 110.9 L338.2 110.1 L338.5 110.6 L338.8 110.3 L339.1 111 L339.4 110.5 L339.7 111.1 L340 110.7 L340.3 111.1 L340.6 110.8 L340.9 110.6 L341.2 111 L341.5 111 L341.8 111.5 L342.1 111 L342.4 111.3 L342.7 111.4 L343 111.7 L343.3 111.1 L343.6 111.5 L343.9 111.5 L344.2 111.7 L344.5 111.9 L344.8 111.5 L345.1 111.8 L345.4 111.7 L345.7 111.7 L346 111.4 L346.3 112 L346.6 112.1 L346.9 111.7 L347.2 111.7 L347.5 112.1 L347.8 111.6 L348.1 111.6 L348.4 111.6 L348.7 112.1 L349 112.1 L349.3 111.9 L349.6 112 L349.9 111.6 L350.2 112 L350.5 111.9 L350.8 112 L351.1 111.9 L351.4 112 L351.7 111.9 L352 111.8 L352.3 112 L352.6 111.9 L352.9 112.2 L353.2 112.3 L353.5 112.3 L353.8 112.1 L354.1 112 L354.4 112.1 L354.7 112.2 L355 112.3 L355.3 112.5 L355.6 112.1 L355.9 112.3 L356.2 112.3 L356.5 112.4 L356.8 112.5 L357.1 112.5 L357.4 112.4 L357.7 112.5 L358 112.5 L358.3 112.6 L358.6 112.5 L358.9 112.5 L359.2 112.4 L359.5 112.7 L359.8 112.5 L360.1 112.6 L360.4 112.7 L360.7 112.7 L361 112.8 L361.3 112.4 L361.6 112.5 L361.9 112.5 L362.2 112.6 L362.5 112.5 L362.8 112.7 L363.1 112.5 L363.4 112.6 L363.7 112.9 L364 112.8 L364.3 112.7 L364.6 112.6 L364.9 112.9 L365.2 112.8 L365.5 112.7 L365.8 112.8 L366.1 112.9 L366.4 112.9 L366.7 112.8 L367 113 L367.3 112.9 L367.6 112.9 L367.9 113 L368.2 112.9 L368.5 113 L368.8 112.9 L369.1 113 L369.4 113 L369.7 113 L370 113.1 L370.3 113.1 L370.6 113.1 L370.9 113.1 L371.2 113.1 L371.5 113.1 L371.8 113.1 L372.1 113.1 L372.4 113.1 L372.7 113.2 L373 113.2 L373.3 113.2 L373.6 113.2 L373.9 113.2 L374.2 113.2 L374.5 113.3 L374.8 113.3 L375 113.3 Z" fill="#e5e5e5" stroke="#8e8e8e" stroke-width="0.55" stroke-linejoin="miter"/>
<path d="M288.5 93.9 L288.8 91.9 L289.1 81.9 L289.4 75.1 L289.8 79.8 L290.1 70 L290.4 72.4 L290.7 73.5 L291 78.7 L291.3 70.4 L291.6 66.3 L291.9 73.8 L292.2 73.8 L292.5 70.4 L292.8 64.7 L293.1 66.7 L293.4 69.7 L293.7 71.9 L294 68.1 L294.3 73.5 L294.6 71.8 L294.9 70.6 L295.2 67.8 L295.5 53.7 L295.8 59.1 L296.1 49.9 L296.4 59.8 L296.7 56.2 L297 54.9 L297.3 45.4 L297.6 42.1 L297.9 51.2 L298.2 47.1 L298.5 46.6 L298.8 43.6 L299.1 47.9 L299.4 39.9 L299.7 38 L300 38.5 L300.3 37.4 L300.6 42.6 L300.9 46.6 L301.2 33.8 L301.5 33.8 L301.8 40.3 L302.1 42.6 L302.4 36.7 L302.7 38.7 L303 36.9 L303.3 37.6 L303.6 44 L303.9 46.9 L304.2 47.6 L304.5 43.6 L304.8 44.6 L305.1 54.7 L305.4 52.1 L305.7 52.2 L306 56.4 L306.3 58.2 L306.6 57.7 L306.9 55 L307.2 63.3 L307.5 59.2 L307.8 59.3 L308.1 63.4 L308.4 66.3 L308.7 68.5 L309 66.4 L309.3 72 L309.6 71.8 L309.9 70.9 L310.2 77.1 L310.5 78.2 L310.8 80.2 L311.1 80.2 L311.4 78.8 L311.7 83.5 L312 85.6 L312.3 84.5 L312.6 87.3 L312.9 88.3 L313.2 86.3 L313.5 89.7 L313.8 90.4" fill="none" stroke="#a6a6a6" stroke-width="0.5"/>
<line x1="301.2" y1="9.5" x2="301.2" y2="40" stroke="#c8c8c8" stroke-width="0.8"/><line x1="382" y1="73" x2="382" y2="113" stroke="#999" stroke-width="1"/>
<rect x="288.2" y="9.2" width="95.6" height="104.1" fill="none" stroke="#333" stroke-width="0.9"/>
<line x1="316.5" y1="9.2" x2="316.5" y2="113.3" stroke="#222" stroke-width="1"/>
<path d="M288.2 113.3h-3.2M288.2 109.1h-2.6M288.2 104.9h-2.6M288.2 100.7h-2.6M288.2 96.5h-2.6M288.2 92.3h-3.2M288.2 88.1h-2.6M288.2 83.9h-2.6M288.2 79.7h-2.6M288.2 75.5h-2.6M288.2 71.3h-3.2M288.2 67.1h-2.6M288.2 62.9h-2.6M288.2 58.7h-2.6M288.2 54.5h-2.6M288.2 50.3h-3.2M288.2 46.1h-2.6M288.2 41.9h-2.6M288.2 37.7h-2.6M288.2 33.5h-2.6M288.2 29.3h-3.2M288.2 25.1h-2.6M288.2 20.9h-2.6M288.2 16.7h-2.6M288.2 12.5h-2.6" stroke="#333" stroke-width="0.9"/>
<text x="283.2" y="113.3" font-size="6.5" fill="#444" text-anchor="middle" transform="rotate(-90 283.2 113.3)">0</text>
<text x="283.2" y="92.3" font-size="6.5" fill="#444" text-anchor="middle" transform="rotate(-90 283.2 92.3)">50</text>
<text x="283.2" y="71.3" font-size="6.5" fill="#444" text-anchor="middle" transform="rotate(-90 283.2 71.3)">100</text>
<text x="283.2" y="50.3" font-size="6.5" fill="#444" text-anchor="middle" transform="rotate(-90 283.2 50.3)">150</text>
<text x="283.2" y="29.3" font-size="6.5" fill="#444" text-anchor="middle" transform="rotate(-90 283.2 29.3)">200</text>
<path d="M290.3 113.3v3M292.7 113.3v3M294.6 113.3v3M296.2 113.3v3M297.6 113.3v3M298.9 113.3v3M300 113.3v5M307.3 113.3v3M311.6 113.3v3M314.6 113.3v3M317 113.3v3M318.9 113.3v3M320.5 113.3v3M321.9 113.3v3M323.2 113.3v3M324.3 113.3v5M331.6 113.3v3M335.9 113.3v3M338.9 113.3v3M341.3 113.3v3M343.2 113.3v3M344.8 113.3v3M346.2 113.3v3M347.5 113.3v3M348.6 113.3v5M355.9 113.3v3M360.2 113.3v3M363.2 113.3v3M365.6 113.3v3M367.5 113.3v3M369.1 113.3v3M370.5 113.3v3M371.8 113.3v3M372.9 113.3v5M380.2 113.3v3" stroke="#2a2a2a" stroke-width="1" fill="none"/>
<text x="301" y="127.6" font-size="7" fill="#444" text-anchor="middle">10<tspan dy="-3" font-size="5">2</tspan></text>
<text x="325.3" y="127.6" font-size="7" fill="#444" text-anchor="middle">10<tspan dy="-3" font-size="5">3</tspan></text>
<text x="349.6" y="127.6" font-size="7" fill="#444" text-anchor="middle">10<tspan dy="-3" font-size="5">4</tspan></text>
<text x="373.9" y="127.6" font-size="7" fill="#444" text-anchor="middle">10<tspan dy="-3" font-size="5">5</tspan></text>
<text x="360" y="139.7" font-size="12.5" font-weight="bold" fill="#000" text-anchor="middle">CD107a</text>
<text x="318" y="22.6" font-size="12.5" font-weight="bold" fill="#000">Ctrl mAb</text>
<path d="M408.5 111.8 L408.5 86.1 L408.8 84.8 L409.1 85.2 L409.4 85.9 L409.7 78.6 L410 76.1 L410.3 77 L410.6 81.9 L410.9 75.3 L411.2 80.9 L411.5 79.7 L411.8 74.8 L412.1 79.2 L412.4 78.7 L412.7 78.8 L413 85.1 L413.3 73 L413.6 69.2 L413.9 76.8 L414.2 67.8 L414.5 62.4 L414.8 61.2 L415.1 59 L415.4 64.7 L415.7 52.6 L416 50.5 L416.3 53.4 L416.6 50.8 L416.9 54.5 L417.2 50.4 L417.5 40.4 L417.8 35.2 L418.1 42.5 L418.4 42.3 L418.7 23.5 L419 32.8 L419.3 33.6 L419.6 28.1 L419.9 18.2 L420.2 27.7 L420.5 24.8 L420.8 15.1 L421.1 24.3 L421.4 17.9 L421.7 16.2 L422 21.9 L422.3 22.9 L422.6 24.8 L422.9 29.5 L423.2 33.3 L423.5 36.2 L423.8 37.5 L424.1 38.9 L424.4 37.4 L424.7 32.3 L425 32.3 L425.3 39.7 L425.6 40.2 L425.9 43.3 L426.2 38.2 L426.5 40.9 L426.8 50.5 L427.1 48.5 L427.4 51.1 L427.7 46.3 L428 51.1 L428.3 57.4 L428.6 56 L428.9 60.5 L429.2 54.2 L429.5 57.9 L429.8 62.2 L430.1 60.3 L430.4 64.4 L430.7 63.8 L431 61.4 L431.3 62.6 L431.6 70.6 L431.9 65.4 L432.2 67 L432.5 68.9 L432.8 72.6 L433.1 74.5 L433.4 72.6 L433.7 73.7 L434 76.7 L434.3 73.6 L434.6 74.9 L434.9 77.2 L435.2 78 L435.5 74.3 L435.8 75.4 L436.1 76.2 L436.4 81.1 L436.7 81.4 L437 84 L437.3 83.1 L437.6 80.3 L437.9 84.3 L438.2 86.3 L438.5 82.7 L438.8 81 L439.1 83.9 L439.4 83.8 L439.7 83.6 L440 83.3 L440.3 84.2 L440.6 89.3 L440.9 84.4 L441.2 88.4 L441.5 86.1 L441.8 86.4 L442.1 90.8 L442.4 87.7 L442.7 87.3 L443 89.5 L443.3 91.3 L443.6 90.5 L443.9 93 L444.2 90.3 L444.5 91.4 L444.8 93 L445.1 91.5 L445.4 93.3 L445.7 91.7 L446 89.6 L446.3 89.6 L446.6 94 L446.9 93.8 L447.2 95 L447.5 93.1 L447.8 92.2 L448.1 89.1 L448.4 93.6 L448.7 88.1 L449 90.1 L449.3 87.4 L449.6 88.6 L449.9 87.4 L450.2 87.7 L450.5 89.2 L450.8 87.3 L451.1 84.5 L451.4 87.9 L451.7 86.9 L452 87 L452.3 80.3 L452.6 84.2 L452.9 85.8 L453.2 80.2 L453.5 79.3 L453.8 83.8 L454.1 79.6 L454.4 79.5 L454.7 82.5 L455 78.3 L455.3 76.4 L455.6 76.3 L455.9 77.1 L456.2 79.9 L456.5 76.7 L456.8 79.9 L457.1 73.6 L457.4 75.2 L457.7 78.4 L458 77.2 L458.3 77.3 L458.6 81.1 L458.9 75.4 L459.2 74.9 L459.5 74.2 L459.8 78.5 L460.1 77.4 L460.4 79.3 L460.7 76 L461 76.5 L461.3 80.2 L461.6 83.7 L461.9 80.8 L462.2 86.1 L462.5 84.2 L462.8 83.5 L463.1 86.8 L463.4 83.4 L463.7 86.6 L464 88.7 L464.3 87.2 L464.6 86.3 L464.9 85.4 L465.2 89 L465.5 87.1 L465.8 88.8 L466.1 90.3 L466.4 93.1 L466.7 92 L467 91.5 L467.3 93.9 L467.6 91.2 L467.9 92.1 L468.2 94.2 L468.5 93.9 L468.8 92.4 L469.1 93.9 L469.4 96.6 L469.7 93.9 L470 96.8 L470.3 93.7 L470.6 98.8 L470.9 97.8 L471.2 96.5 L471.5 100.2 L471.8 99.7 L472.1 96.7 L472.4 98.1 L472.7 99.7 L473 102.3 L473.3 99 L473.6 98.9 L473.9 100.3 L474.2 99.6 L474.5 101.4 L474.8 102.2 L475.1 102.1 L475.4 101.3 L475.7 101.2 L476 104.4 L476.3 103.4 L476.6 103.9 L476.9 104.2 L477.2 105.2 L477.5 106.2 L477.8 106.2 L478.1 106.2 L478.4 105.3 L478.7 105 L479 105.1 L479.3 107.3 L479.6 105.5 L479.9 107 L480.2 108 L480.5 106.8 L480.8 107.2 L481.1 107.5 L481.4 108.9 L481.7 108.7 L482 109.3 L482.3 108.2 L482.6 109.7 L482.9 109.5 L483.2 109.8 L483.5 110.6 L483.8 110.8 L484.1 111.1 L484.4 111.3 L484.7 111.6 L485 111.8 Z" fill="#e5e5e5" stroke="#8e8e8e" stroke-width="0.55" stroke-linejoin="miter"/>
<path d="M408.6 92.8 L408.9 92 L409.2 92.2 L409.6 87.2 L409.9 82.3 L410.2 85.4 L410.5 87.8 L410.8 87.4 L411.1 79.7 L411.4 81.8 L411.7 80.3 L412 81.8 L412.3 88.3 L412.6 83.4 L412.9 82.8 L413.2 81.2 L413.5 80.3 L413.8 80.2 L414.1 74 L414.4 69.5 L414.7 67.3 L415 65 L415.3 71.1 L415.6 59.6 L415.9 65.2 L416.2 54.5 L416.5 61.6 L416.8 52.5 L417.1 57.5 L417.4 50 L417.7 42.1 L418 39.6 L418.3 48 L418.6 41.3 L418.9 37.9 L419.2 33.6 L419.5 38 L419.8 32.9 L420.1 23.5 L420.4 32.3 L420.7 26.2 L421 36.2 L421.3 31.1 L421.6 34.9 L421.9 25.3 L422.2 34.4 L422.5 34.1 L422.8 38.5 L423.1 40.1 L423.4 36.4 L423.7 38.1 L424 41.6 L424.3 35.9 L424.6 41.1 L424.9 45.6 L425.2 44.5 L425.5 45.2 L425.8 50.2 L426.1 52.7 L426.4 46.2 L426.7 45.8 L427 53 L427.3 49.6 L427.6 59.4 L427.9 55.8 L428.2 57.7 L428.5 61.5 L428.8 63.1 L429.1 57.5 L429.4 61.5 L429.7 60.3 L430 63.9 L430.3 62.3 L430.6 69.5 L430.9 66.5 L431.2 67.9 L431.5 72.8 L431.8 73.4 L432.1 71 L432.4 73 L432.7 75.1 L433 72.7 L433.3 73.2 L433.6 79.2 L433.9 75.2 L434.2 79.8 L434.5 80.6 L434.8 80.1 L435.1 79 L435.4 83.2 L435.7 83.3 L436 78.9 L436.3 85.2 L436.6 84 L436.9 82.2 L437.2 82 L437.5 82.1 L437.8 87.3 L438.1 88.1 L438.4 85.5 L438.7 84.9 L439 84.8 L439.3 87.4 L439.6 87.2 L439.9 86.2 L440.2 88.2 L440.5 91.8 L440.8 87.4 L441.1 89.9 L441.4 91 L441.7 89.1 L442 88.7 L442.3 89.2 L442.6 90 L442.9 95.6 L443.2 95.2 L443.5 94.5 L443.8 96.1 L444.1 92.8 L444.4 92.6 L444.7 96.8 L445 95.4 L445.3 97.5 L445.6 94 L445.9 94.5 L446.2 96.5 L446.5 97.6 L446.8 93.1 L447.1 93.8 L447.4 91.9 L447.7 95.3 L448 97.5 L448.3 94.9 L448.6 91.9 L448.9 95.4 L449.2 94.7 L449.5 90.3 L449.8 95.4 L450.1 93 L450.4 91.2 L450.7 89.6 L451 87.7 L451.3 89.3 L451.6 88 L451.9 86.4 L452.2 88.9 L452.5 88.5 L452.8 90.1 L453.1 89.7 L453.4 85.4 L453.7 87 L454 83.9 L454.3 83.9 L454.6 84.6 L454.9 87.6 L455.2 79.4 L455.5 82.6 L455.8 81.3 L456.1 84.9 L456.4 85.8 L456.7 81.5 L457 77.9 L457.3 82.2 L457.6 82.1 L457.9 82.9 L458.2 83.7 L458.5 81.1 L458.8 81.8 L459.1 83.7 L459.4 78 L459.7 80.2 L460 84.2 L460.3 87 L460.6 87.1 L460.9 82.3 L461.2 88.1 L461.5 83.4 L461.8 85.3 L462.1 83.7 L462.4 87.5 L462.7 86.6 L463 89.2 L463.3 91.5 L463.6 86.3 L463.9 90.3 L464.2 90.4 L464.5 88.8 L464.8 87.8 L465.1 93.8 L465.4 92.8 L465.7 92.8 L466 90.3 L466.3 95.2 L466.6 92.9 L466.9 93.7 L467.2 94.6 L467.5 94.5 L467.8 97.8 L468.1 95.5 L468.4 97 L468.7 97.9 L469 99.1 L469.3 95.4 L469.6 96.7 L469.9 100.3 L470.2 98.9 L470.5 98.1 L470.8 101 L471.1 97.6 L471.4 98.7 L471.7 98.3 L472 101.5 L472.3 101.1 L472.6 100.7 L472.9 101.7" fill="none" stroke="#a6a6a6" stroke-width="0.5"/>
<line x1="424.2" y1="8.5" x2="424.2" y2="40" stroke="#c8c8c8" stroke-width="0.8"/>
<rect x="408.2" y="8.2" width="94.5" height="103.6" fill="none" stroke="#333" stroke-width="0.9"/>
<line x1="436.5" y1="8.2" x2="436.5" y2="111.8" stroke="#222" stroke-width="1"/>
<path d="M408.2 111.8h-3.2M408.2 107.8h-2.6M408.2 103.8h-2.6M408.2 99.7h-2.6M408.2 95.7h-2.6M408.2 91.7h-3.2M408.2 87.7h-2.6M408.2 83.7h-2.6M408.2 79.6h-2.6M408.2 75.6h-2.6M408.2 71.6h-3.2M408.2 67.6h-2.6M408.2 63.6h-2.6M408.2 59.5h-2.6M408.2 55.5h-2.6M408.2 51.5h-3.2M408.2 47.5h-2.6M408.2 43.5h-2.6M408.2 39.4h-2.6M408.2 35.4h-2.6M408.2 31.4h-3.2M408.2 27.4h-2.6M408.2 23.4h-2.6M408.2 19.3h-2.6M408.2 15.3h-2.6M408.2 11.3h-3.2" stroke="#333" stroke-width="0.9"/>
<text x="403.2" y="111.8" font-size="6.5" fill="#444" text-anchor="middle" transform="rotate(-90 403.2 111.8)">0</text>
<text x="403.2" y="91.7" font-size="6.5" fill="#444" text-anchor="middle" transform="rotate(-90 403.2 91.7)">25</text>
<text x="403.2" y="71.6" font-size="6.5" fill="#444" text-anchor="middle" transform="rotate(-90 403.2 71.6)">50</text>
<text x="403.2" y="51.5" font-size="6.5" fill="#444" text-anchor="middle" transform="rotate(-90 403.2 51.5)">75</text>
<text x="403.2" y="31.4" font-size="6.5" fill="#444" text-anchor="middle" transform="rotate(-90 403.2 31.4)">100</text>
<text x="403.2" y="11.3" font-size="6.5" fill="#444" text-anchor="middle" transform="rotate(-90 403.2 11.3)">125</text>
<path d="M410.4 111.8v3M412.7 111.8v3M414.6 111.8v3M416.3 111.8v3M417.7 111.8v3M418.9 111.8v3M420 111.8v5M427.3 111.8v3M431.5 111.8v3M434.6 111.8v3M436.9 111.8v3M438.8 111.8v3M440.5 111.8v3M441.9 111.8v3M443.1 111.8v3M444.2 111.8v5M451.5 111.8v3M455.7 111.8v3M458.8 111.8v3M461.1 111.8v3M463 111.8v3M464.7 111.8v3M466.1 111.8v3M467.3 111.8v3M468.4 111.8v5M475.7 111.8v3M479.9 111.8v3M483 111.8v3M485.3 111.8v3M487.2 111.8v3M488.9 111.8v3M490.3 111.8v3M491.5 111.8v3M492.6 111.8v5M499.9 111.8v3" stroke="#2a2a2a" stroke-width="1" fill="none"/>
<text x="421" y="126.1" font-size="7" fill="#444" text-anchor="middle">10<tspan dy="-3" font-size="5">2</tspan></text>
<text x="445.2" y="126.1" font-size="7" fill="#444" text-anchor="middle">10<tspan dy="-3" font-size="5">3</tspan></text>
<text x="469.4" y="126.1" font-size="7" fill="#444" text-anchor="middle">10<tspan dy="-3" font-size="5">4</tspan></text>
<text x="493.6" y="126.1" font-size="7" fill="#444" text-anchor="middle">10<tspan dy="-3" font-size="5">5</tspan></text>
<text x="476" y="138.5" font-size="12.5" font-weight="bold" fill="#000" text-anchor="middle">CD107a</text>
<text x="437.8" y="22" font-size="12.5" font-weight="bold" fill="#000">anti-CD16</text>
<text x="8" y="172" font-size="13" font-weight="bold" fill="#000" stroke="#000" stroke-width="0.35">B</text>
<rect x="48.5" y="176" width="102.5" height="127.5" fill="none" stroke="#111" stroke-width="1.1"/>
<text x="44.6" y="306.7" font-size="8.8" fill="#333" text-anchor="end">0</text>
<text x="44.6" y="288.6" font-size="8.8" fill="#333" text-anchor="end">5</text>
<text x="44.6" y="270.6" font-size="8.8" fill="#333" text-anchor="end">10</text>
<text x="44.6" y="252.5" font-size="8.8" fill="#333" text-anchor="end">15</text>
<text x="44.6" y="234.4" font-size="8.8" fill="#333" text-anchor="end">20</text>
<text x="44.6" y="216.3" font-size="8.8" fill="#333" text-anchor="end">25</text>
<text x="44.6" y="198.3" font-size="8.8" fill="#333" text-anchor="end">30</text>
<text x="44.6" y="180.2" font-size="8.8" fill="#333" text-anchor="end">35</text>
<text x="12.2" y="248.5" font-size="11.7" font-weight="bold" fill="#000" text-anchor="middle" transform="rotate(-90 12.2 248.5)">% of CD107a+ cells</text>
<text x="25.3" y="247.5" font-size="11.6" font-weight="bold" fill="#000" text-anchor="middle" transform="rotate(-90 25.3 247.5)">in V&#948;2<tspan font-size="7.5" dy="-4">neg</tspan><tspan dy="4">  &#947;&#948; T cells</tspan></text>
<text x="96.8" y="193" font-size="12.5" font-weight="bold" fill="#000" text-anchor="middle">p=0.03</text>
<line x1="66.8" y1="249.3" x2="131.3" y2="211" stroke="#000" stroke-width="1.5"/>
<line x1="66.8" y1="270.2" x2="131.3" y2="190.4" stroke="#000" stroke-width="1.5"/>
<line x1="66.8" y1="272.8" x2="131.3" y2="198" stroke="#000" stroke-width="1.5"/>
<line x1="66.8" y1="282.3" x2="131.3" y2="272.1" stroke="#000" stroke-width="1.5"/>
<line x1="66.8" y1="284" x2="131.3" y2="266.6" stroke="#000" stroke-width="1.5"/>
<line x1="66.8" y1="287.4" x2="131.3" y2="262.7" stroke="#000" stroke-width="1.5"/>
<line x1="66.8" y1="291.7" x2="131.3" y2="259" stroke="#000" stroke-width="1.5"/>
<ellipse cx="66.8" cy="249.3" rx="2.4" ry="3" fill="#000"/>
<ellipse cx="131.3" cy="211" rx="2.4" ry="3" fill="#000"/>
<ellipse cx="66.8" cy="270.2" rx="2.4" ry="3" fill="#000"/>
<ellipse cx="131.3" cy="190.4" rx="2.4" ry="3" fill="#000"/>
<ellipse cx="66.8" cy="272.8" rx="2.4" ry="3" fill="#000"/>
<path d="M131.3 195L134 200.1L128.6 200.1Z" fill="#000"/>
<ellipse cx="66.8" cy="282.3" rx="2.4" ry="3" fill="#000"/>
<ellipse cx="131.3" cy="272.1" rx="2.4" ry="3" fill="#000"/>
<ellipse cx="66.8" cy="284" rx="2.4" ry="3" fill="#000"/>
<ellipse cx="131.3" cy="266.6" rx="2.4" ry="3" fill="#000"/>
<ellipse cx="66.8" cy="287.4" rx="2.4" ry="3" fill="#000"/>
<ellipse cx="131.3" cy="262.7" rx="2.4" ry="3" fill="#000"/>
<path d="M66.8 288.7L69.5 293.8L64.1 293.8Z" fill="#000"/>
<path d="M131.3 256.1L134 261.2L128.6 261.2Z" fill="#000"/>
<ellipse cx="131.3" cy="195.4" rx="2.4" ry="3" fill="#000"/>
<text x="67" y="321.3" font-size="12.5" font-weight="bold" fill="#000" text-anchor="middle">Ctrl</text>
<text x="129" y="321.3" font-size="12.5" font-weight="bold" fill="#000" text-anchor="middle">Anti-CD16</text>
<text x="188.6" y="172" font-size="13.5" font-weight="bold" fill="#000" stroke="#000" stroke-width="0.35">C</text>
<line x1="223.7" y1="182.7" x2="223.7" y2="305.5" stroke="#bbb" stroke-width="1"/>
<line x1="223.7" y1="305.5" x2="452.7" y2="305.5" stroke="#ccc" stroke-width="1"/>
<text x="219.8" y="308.9" font-size="9.4" fill="#3a3a3a" text-anchor="end">0</text>
<line x1="221.5" y1="305.5" x2="223.7" y2="305.5" stroke="#bbb" stroke-width="0.8"/>
<text x="219.8" y="291.5" font-size="9.4" fill="#3a3a3a" text-anchor="end">10</text>
<line x1="221.5" y1="288.1" x2="223.7" y2="288.1" stroke="#bbb" stroke-width="0.8"/>
<text x="219.8" y="274.1" font-size="9.4" fill="#3a3a3a" text-anchor="end">20</text>
<line x1="221.5" y1="270.7" x2="223.7" y2="270.7" stroke="#bbb" stroke-width="0.8"/>
<text x="219.8" y="256.7" font-size="9.4" fill="#3a3a3a" text-anchor="end">30</text>
<line x1="221.5" y1="253.3" x2="223.7" y2="253.3" stroke="#bbb" stroke-width="0.8"/>
<text x="219.8" y="239.3" font-size="9.4" fill="#3a3a3a" text-anchor="end">40</text>
<line x1="221.5" y1="235.9" x2="223.7" y2="235.9" stroke="#bbb" stroke-width="0.8"/>
<text x="219.8" y="221.9" font-size="9.4" fill="#3a3a3a" text-anchor="end">50</text>
<line x1="221.5" y1="218.5" x2="223.7" y2="218.5" stroke="#bbb" stroke-width="0.8"/>
<text x="219.8" y="204.5" font-size="9.4" fill="#3a3a3a" text-anchor="end">60</text>
<line x1="221.5" y1="201.1" x2="223.7" y2="201.1" stroke="#bbb" stroke-width="0.8"/>
<text x="219.8" y="187.1" font-size="9.4" fill="#3a3a3a" text-anchor="end">70</text>
<line x1="221.5" y1="183.7" x2="223.7" y2="183.7" stroke="#bbb" stroke-width="0.8"/>
<text x="202.2" y="247.6" font-size="11.7" font-weight="bold" fill="#000" text-anchor="middle" transform="rotate(-90 202.2 247.6)">% of CD107a+ cells</text>
<rect x="231.2" y="302.9" width="11.8" height="2.6" fill="#ffffff" stroke="#aaa" stroke-width="0.6"/>
<rect x="243" y="302.5" width="11.8" height="3" fill="#111111" stroke="#999" stroke-width="0.6"/>
<rect x="254.8" y="195" width="11.8" height="110.5" fill="#c4c4c4" stroke="#999" stroke-width="0.6"/>
<rect x="266.6" y="223.7" width="11.8" height="81.8" fill="#8a8a8a" stroke="#999" stroke-width="0.6"/>
<rect x="278.4" y="204.6" width="11.8" height="100.9" fill="#464646" stroke="#999" stroke-width="0.6"/>
<rect x="307.8" y="303.4" width="11.8" height="2.1" fill="#ffffff" stroke="#aaa" stroke-width="0.6"/>
<rect x="319.6" y="302.4" width="11.8" height="3.1" fill="#111111" stroke="#999" stroke-width="0.6"/>
<rect x="331.4" y="275.6" width="11.8" height="29.9" fill="#c4c4c4" stroke="#999" stroke-width="0.6"/>
<rect x="343.2" y="278.7" width="11.8" height="26.8" fill="#8a8a8a" stroke="#999" stroke-width="0.6"/>
<rect x="355" y="247.6" width="11.8" height="57.9" fill="#464646" stroke="#999" stroke-width="0.6"/>
<rect x="384.2" y="302.9" width="11.8" height="2.6" fill="#ffffff" stroke="#aaa" stroke-width="0.6"/>
<rect x="396" y="302.4" width="11.8" height="3.1" fill="#111111" stroke="#999" stroke-width="0.6"/>
<rect x="407.8" y="207" width="11.8" height="98.5" fill="#c4c4c4" stroke="#999" stroke-width="0.6"/>
<rect x="419.6" y="297" width="11.8" height="8.5" fill="#8a8a8a" stroke="#999" stroke-width="0.6"/>
<rect x="431.4" y="211" width="11.8" height="94.5" fill="#464646" stroke="#999" stroke-width="0.6"/>
<text x="258.3" y="318.8" font-size="10.3" fill="#222" text-anchor="middle">optimal doses</text>
<text x="337.2" y="318.2" font-size="10.3" fill="#222" text-anchor="middle">subopt. doses</text>
<text x="412.5" y="318.5" font-size="10.3" fill="#222" text-anchor="middle">optimal doses</text>
<line x1="224" y1="324.4" x2="372" y2="324.4" stroke="#ccc" stroke-width="1"/>
<line x1="378" y1="324.4" x2="452" y2="324.4" stroke="#ccc" stroke-width="1"/>
<text x="290.5" y="340" font-size="11.5" font-weight="bold" fill="#000" text-anchor="middle">CD16+ Cell line</text>
<text x="412.2" y="340.2" font-size="11.5" font-weight="bold" fill="#000" text-anchor="middle">CD16- Cell line</text>
<rect x="465.8" y="202.3" width="8.4" height="9.2" fill="#ffffff" stroke="#999" stroke-width="0.6"/>
<text x="478.3" y="211.5" font-size="11.5" fill="#111">0</text>
<rect x="465.8" y="224.7" width="8.4" height="9.2" fill="#111111" stroke="#999" stroke-width="0.6"/>
<text x="478.3" y="233.9" font-size="11.5" fill="#111">ctrl</text>
<rect x="465.8" y="248.2" width="8.4" height="9.2" fill="#c4c4c4" stroke="#999" stroke-width="0.6"/>
<text x="478.3" y="257.4" font-size="11.5" fill="#111">&#945;CD3</text>
<rect x="465.8" y="271.8" width="8.4" height="9.2" fill="#8a8a8a" stroke="#999" stroke-width="0.6"/>
<text x="478.3" y="281" font-size="11.5" fill="#111">&#945;CD16</text>
<rect x="465.8" y="296.5" width="8.4" height="10.5" fill="#464646" stroke="#999" stroke-width="0.6"/>
<text x="478.3" y="302.5" font-size="11.5" fill="#111">&#945;CD3+</text>
<text x="478.3" y="313" font-size="11.5" fill="#111">&#945;CD16</text>
<text x="12.2" y="379.3" font-size="13" font-weight="bold" fill="#000" stroke="#000" stroke-width="0.35">D</text>
<text x="108.5" y="379.3" font-size="12" font-weight="bold" fill="#000" text-anchor="middle">FSF</text>
<text x="243.8" y="379.6" font-size="13" font-weight="bold" fill="#000" text-anchor="middle">HCMV-infected FSF</text>
<path d="M46.2 486.5 V387.4 H312.8 V486.5" fill="none" stroke="#555" stroke-width="1"/>
<line x1="46.2" y1="486.5" x2="312.8" y2="486.5" stroke="#555" stroke-width="1"/>
<line x1="182.3" y1="389" x2="182.3" y2="486" stroke="#ccc" stroke-width="1"/>
<text x="44.5" y="489.6" font-size="8.6" fill="#333" text-anchor="end">0</text>
<line x1="44.5" y1="486.5" x2="46.2" y2="486.5" stroke="#555" stroke-width="0.7"/>
<text x="44.5" y="473.3" font-size="8.6" fill="#333" text-anchor="end">0.5</text>
<line x1="44.5" y1="470.2" x2="46.2" y2="470.2" stroke="#555" stroke-width="0.7"/>
<text x="44.5" y="457" font-size="8.6" fill="#333" text-anchor="end">1.0</text>
<line x1="44.5" y1="453.9" x2="46.2" y2="453.9" stroke="#555" stroke-width="0.7"/>
<text x="44.5" y="440.7" font-size="8.6" fill="#333" text-anchor="end">1.5</text>
<line x1="44.5" y1="437.6" x2="46.2" y2="437.6" stroke="#555" stroke-width="0.7"/>
<text x="44.5" y="424.4" font-size="8.6" fill="#333" text-anchor="end">2.0</text>
<line x1="44.5" y1="421.3" x2="46.2" y2="421.3" stroke="#555" stroke-width="0.7"/>
<text x="44.5" y="408.1" font-size="8.6" fill="#333" text-anchor="end">2.5</text>
<line x1="44.5" y1="405" x2="46.2" y2="405" stroke="#555" stroke-width="0.7"/>
<text x="44.5" y="391.8" font-size="8.6" fill="#333" text-anchor="end">3.0</text>
<line x1="44.5" y1="388.7" x2="46.2" y2="388.7" stroke="#555" stroke-width="0.7"/>
<text x="25" y="437" font-size="11.2" font-weight="bold" fill="#000" text-anchor="middle" transform="rotate(-90 25 437)">MFI (x1000)</text>
<rect x="53.8" y="464" width="3.5" height="22.5" fill="#707070"/>
<text x="58.6" y="489" font-size="9" fill="#333" text-anchor="end" transform="rotate(-90 58.6 489)" stroke="#333" stroke-width="0.25">3</text>
<rect x="61.4" y="474.1" width="3.5" height="12.4" fill="#707070"/>
<text x="66.2" y="489" font-size="9" fill="#333" text-anchor="end" transform="rotate(-90 66.2 489)" stroke="#333" stroke-width="0.25">1</text>
<rect x="69" y="476.1" width="3.5" height="10.4" fill="#707070"/>
<text x="73.8" y="489" font-size="9" fill="#333" text-anchor="end" transform="rotate(-90 73.8 489)" stroke="#333" stroke-width="0.25">0.3</text>
<rect x="76.5" y="477.4" width="3.5" height="9.1" fill="#707070"/>
<text x="81.4" y="489" font-size="9" fill="#333" text-anchor="end" transform="rotate(-90 81.4 489)" stroke="#333" stroke-width="0.25">0.1</text>
<rect x="84.2" y="478" width="3.5" height="8.5" fill="#707070"/>
<text x="89" y="489" font-size="9" fill="#333" text-anchor="end" transform="rotate(-90 89 489)" stroke="#333" stroke-width="0.25">0.03</text>
<rect x="91.8" y="477" width="3.5" height="9.5" fill="#707070"/>
<text x="96.6" y="489" font-size="9" fill="#333" text-anchor="end" transform="rotate(-90 96.6 489)" stroke="#333" stroke-width="0.25">0.01</text>
<rect x="99.3" y="479" width="3.5" height="7.5" fill="#707070"/>
<text x="104.2" y="489" font-size="9" fill="#333" text-anchor="end" transform="rotate(-90 104.2 489)" stroke="#333" stroke-width="0.25">0</text>
<rect x="116.2" y="472.2" width="3.5" height="14.3" fill="#bababa"/>
<text x="121" y="489" font-size="9" fill="#333" text-anchor="end" transform="rotate(-90 121 489)" stroke="#333" stroke-width="0.25">3</text>
<rect x="123.8" y="475.4" width="3.5" height="11.1" fill="#bababa"/>
<text x="128.6" y="489" font-size="9" fill="#333" text-anchor="end" transform="rotate(-90 128.6 489)" stroke="#333" stroke-width="0.25">1</text>
<rect x="131.3" y="477" width="3.5" height="9.5" fill="#bababa"/>
<text x="136.2" y="489" font-size="9" fill="#333" text-anchor="end" transform="rotate(-90 136.2 489)" stroke="#333" stroke-width="0.25">0.3</text>
<rect x="138.9" y="478" width="3.5" height="8.5" fill="#bababa"/>
<text x="143.8" y="489" font-size="9" fill="#333" text-anchor="end" transform="rotate(-90 143.8 489)" stroke="#333" stroke-width="0.25">0.1</text>
<rect x="146.6" y="478" width="3.5" height="8.5" fill="#bababa"/>
<text x="151.4" y="489" font-size="9" fill="#333" text-anchor="end" transform="rotate(-90 151.4 489)" stroke="#333" stroke-width="0.25">0.03</text>
<rect x="154.2" y="475.1" width="3.5" height="11.4" fill="#bababa"/>
<text x="159" y="489" font-size="9" fill="#333" text-anchor="end" transform="rotate(-90 159 489)" stroke="#333" stroke-width="0.25">0.01</text>
<rect x="161.8" y="479" width="3.5" height="7.5" fill="#bababa"/>
<text x="166.6" y="489" font-size="9" fill="#333" text-anchor="end" transform="rotate(-90 166.6 489)" stroke="#333" stroke-width="0.25">0</text>
<rect x="192.1" y="394.6" width="3.5" height="91.9" fill="#707070"/>
<text x="196.9" y="489" font-size="9" fill="#333" text-anchor="end" transform="rotate(-90 196.9 489)" stroke="#333" stroke-width="0.25">3</text>
<rect x="199.7" y="426.2" width="3.5" height="60.3" fill="#707070"/>
<text x="204.5" y="489" font-size="9" fill="#333" text-anchor="end" transform="rotate(-90 204.5 489)" stroke="#333" stroke-width="0.25">1</text>
<rect x="207.2" y="450" width="3.5" height="36.5" fill="#707070"/>
<text x="212.1" y="489" font-size="9" fill="#333" text-anchor="end" transform="rotate(-90 212.1 489)" stroke="#333" stroke-width="0.25">0.3</text>
<rect x="214.9" y="464.7" width="3.5" height="21.8" fill="#707070"/>
<text x="219.7" y="489" font-size="9" fill="#333" text-anchor="end" transform="rotate(-90 219.7 489)" stroke="#333" stroke-width="0.25">0.1</text>
<rect x="222.5" y="471.8" width="3.5" height="14.7" fill="#707070"/>
<text x="227.3" y="489" font-size="9" fill="#333" text-anchor="end" transform="rotate(-90 227.3 489)" stroke="#333" stroke-width="0.25">0.03</text>
<rect x="230.1" y="475.4" width="3.5" height="11.1" fill="#707070"/>
<text x="234.9" y="489" font-size="9" fill="#333" text-anchor="end" transform="rotate(-90 234.9 489)" stroke="#333" stroke-width="0.25">0.01</text>
<rect x="237.7" y="478.4" width="3.5" height="8.2" fill="#707070"/>
<text x="242.5" y="489" font-size="9" fill="#333" text-anchor="end" transform="rotate(-90 242.5 489)" stroke="#333" stroke-width="0.25">0</text>
<rect x="253.1" y="453.2" width="3.5" height="33.3" fill="#bababa"/>
<text x="257.9" y="489" font-size="9" fill="#333" text-anchor="end" transform="rotate(-90 257.9 489)" stroke="#333" stroke-width="0.25">3</text>
<rect x="260.7" y="466.3" width="3.5" height="20.2" fill="#bababa"/>
<text x="265.5" y="489" font-size="9" fill="#333" text-anchor="end" transform="rotate(-90 265.5 489)" stroke="#333" stroke-width="0.25">1</text>
<rect x="268.2" y="481" width="3.5" height="5.5" fill="#bababa"/>
<text x="273.1" y="489" font-size="9" fill="#333" text-anchor="end" transform="rotate(-90 273.1 489)" stroke="#333" stroke-width="0.25">0.3</text>
<rect x="275.9" y="476.4" width="3.5" height="10.1" fill="#bababa"/>
<text x="280.7" y="489" font-size="9" fill="#333" text-anchor="end" transform="rotate(-90 280.7 489)" stroke="#333" stroke-width="0.25">0.1</text>
<rect x="283.4" y="477" width="3.5" height="9.5" fill="#bababa"/>
<text x="288.3" y="489" font-size="9" fill="#333" text-anchor="end" transform="rotate(-90 288.3 489)" stroke="#333" stroke-width="0.25">0.03</text>
<rect x="291.1" y="477" width="3.5" height="9.5" fill="#bababa"/>
<text x="295.9" y="489" font-size="9" fill="#333" text-anchor="end" transform="rotate(-90 295.9 489)" stroke="#333" stroke-width="0.25">0.01</text>
<rect x="298.6" y="478.4" width="3.5" height="8.2" fill="#bababa"/>
<text x="303.5" y="489" font-size="9" fill="#333" text-anchor="end" transform="rotate(-90 303.5 489)" stroke="#333" stroke-width="0.25">0</text>
<line x1="54.6" y1="510.7" x2="94.6" y2="510.7" stroke="#ccc" stroke-width="1"/>
<line x1="116.6" y1="510.7" x2="156.6" y2="510.7" stroke="#ccc" stroke-width="1"/>
<line x1="193.8" y1="510.7" x2="233.8" y2="510.7" stroke="#ccc" stroke-width="1"/>
<line x1="255.4" y1="510.7" x2="295.4" y2="510.7" stroke="#ccc" stroke-width="1"/>
<text x="320.3" y="496" font-size="9.5" font-weight="bold" fill="#000" text-anchor="middle">mg/ml</text>
<text x="29.4" y="525" font-size="11.2" font-weight="bold" fill="#000" text-anchor="middle">IgG:</text>
<text x="81.9" y="525" font-size="11.2" font-weight="bold" fill="#000" text-anchor="middle">Anti-HCMV</text>
<text x="136.4" y="525" font-size="11.2" font-weight="bold" fill="#000" text-anchor="middle">Ctrl</text>
<text x="217.8" y="524.6" font-size="11.2" font-weight="bold" fill="#000" text-anchor="middle">Anti-HCMV</text>
<text x="277.3" y="524.6" font-size="11.2" font-weight="bold" fill="#000" text-anchor="middle">Ctrl</text>
<text x="343.5" y="377" font-size="13.5" font-weight="bold" fill="#000" stroke="#000" stroke-width="0.35">E</text>
<line x1="371.3" y1="394.3" x2="371.3" y2="502.3" stroke="#ccc" stroke-width="1"/>
<line x1="371.3" y1="502.3" x2="439.5" y2="502.3" stroke="#ccc" stroke-width="1"/>
<line x1="405.5" y1="502.3" x2="405.5" y2="504.3" stroke="#ccc" stroke-width="1"/>
<text x="366" y="506.1" font-size="8.7" fill="#333" text-anchor="end">0</text>
<line x1="369" y1="502.3" x2="371.3" y2="502.3" stroke="#ccc" stroke-width="0.8"/>
<text x="366" y="484.7" font-size="8.7" fill="#333" text-anchor="end">10</text>
<line x1="369" y1="480.9" x2="371.3" y2="480.9" stroke="#ccc" stroke-width="0.8"/>
<text x="366" y="463.3" font-size="8.7" fill="#333" text-anchor="end">20</text>
<line x1="369" y1="459.5" x2="371.3" y2="459.5" stroke="#ccc" stroke-width="0.8"/>
<text x="366" y="441.9" font-size="8.7" fill="#333" text-anchor="end">30</text>
<line x1="369" y1="438.1" x2="371.3" y2="438.1" stroke="#ccc" stroke-width="0.8"/>
<text x="366" y="420.5" font-size="8.7" fill="#333" text-anchor="end">40</text>
<line x1="369" y1="416.7" x2="371.3" y2="416.7" stroke="#ccc" stroke-width="0.8"/>
<text x="366" y="399.1" font-size="8.7" fill="#333" text-anchor="end">50</text>
<line x1="369" y1="395.3" x2="371.3" y2="395.3" stroke="#ccc" stroke-width="0.8"/>
<text x="352.5" y="447" font-size="11.4" font-weight="bold" fill="#000" text-anchor="middle" transform="rotate(-90 352.5 447)">MFI (x1000)</text>
<rect x="378.5" y="501.7" width="10.5" height="0.6" fill="#ddd"/>
<rect x="389.7" y="400.6" width="9.1" height="101.7" fill="#bdbdbd"/>
<rect x="413" y="501.7" width="10" height="0.6" fill="#ddd"/>
<rect x="423.1" y="430.6" width="8.9" height="71.7" fill="#111"/>
<text x="388.4" y="516.3" font-size="10.8" font-weight="bold" fill="#000" text-anchor="middle">Daudi</text>
<text x="427.3" y="516.3" font-size="10.8" font-weight="bold" fill="#000" text-anchor="middle">A431</text>
<rect x="380.8" y="367.6" width="4" height="4.2" fill="#fff" stroke="#bbb" stroke-width="0.6"/>
<rect x="380.5" y="377.8" width="4.5" height="4.3" fill="#bdbdbd"/>
<rect x="380.5" y="388.5" width="4.5" height="5" fill="#111"/>
<text x="389" y="372" font-size="10.5" font-weight="bold" fill="#000">0</text>
<text x="389" y="382.4" font-size="10.5" font-weight="bold" fill="#000">Rituximab</text>
<text x="389" y="392.9" font-size="10.5" font-weight="bold" fill="#000">Cetuximab</text>
<text x="15.4" y="578" font-size="13" font-weight="bold" fill="#000" stroke="#000" stroke-width="0.35">F</text>
<text x="110.2" y="580.8" font-size="12.8" font-weight="bold" fill="#000" text-anchor="middle">HCMV-infected FSFs</text>
<text x="245.7" y="580.8" font-size="12.6" font-weight="bold" fill="#000" text-anchor="middle">A431</text>
<text x="383.6" y="581.6" font-size="13" font-weight="bold" fill="#000" text-anchor="middle">Daudi</text>
<text x="240.4" y="739.6" font-size="13" font-weight="bold" fill="#000" text-anchor="middle">Effector / target ratio</text>
<text x="30" y="655.5" font-size="12.6" font-weight="bold" fill="#000" text-anchor="middle" transform="rotate(-90 30 655.5)">% specific lysis</text>
<rect x="50.8" y="591.3" width="119.5" height="113.2" fill="none" stroke="#d0d0d0" stroke-width="1"/>
<text x="47.8" y="707.8" font-size="9.3" fill="#333" text-anchor="end">0</text>
<text x="47.8" y="679.5" font-size="9.3" fill="#333" text-anchor="end">10</text>
<text x="47.8" y="651.2" font-size="9.3" fill="#333" text-anchor="end">20</text>
<text x="47.8" y="622.9" font-size="9.3" fill="#333" text-anchor="end">30</text>
<text x="47.8" y="594.6" font-size="9.3" fill="#333" text-anchor="end">40</text>
<text x="74" y="718.3" font-size="10.4" font-weight="bold" fill="#000" text-anchor="middle">10:1</text>
<text x="113.3" y="718.3" font-size="10.4" font-weight="bold" fill="#000" text-anchor="middle">30:1</text>
<text x="156" y="718.3" font-size="10.4" font-weight="bold" fill="#000" text-anchor="middle">100:1</text>
<path d="M70.7 684.1 L110.4 678.2 L150.8 677" fill="none" stroke="#c4c4c4" stroke-width="0.9"/>
<path d="M70.7 687 L110.4 679 L150.8 674.2" fill="none" stroke="#c4c4c4" stroke-width="0.9"/>
<path d="M70.7 679.6 L110.4 675.1 L150.8 671.1" fill="none" stroke="#c4c4c4" stroke-width="0.9"/>
<path d="M70.7 681.3L73.3 686.2L68.1 686.2Z" fill="#000"/>
<path d="M110.4 675.3L113 680.3L107.8 680.3Z" fill="#000"/>
<path d="M150.8 674.2L153.4 679.1L148.2 679.1Z" fill="#000"/>
<path d="M69.2 685.5l3 3m0 -3l-3 3M70.7 685v4" stroke="#bbb" stroke-width="0.7"/>
<path d="M108.9 677.5l3 3m0 -3l-3 3M110.4 677v4" stroke="#bbb" stroke-width="0.7"/>
<path d="M149.3 672.7l3 3m0 -3l-3 3M150.8 672.2v4" stroke="#bbb" stroke-width="0.7"/>
<path d="M70.7 677.3L73.6 679.6L70.7 681.9L67.8 679.6Z" fill="#000"/>
<path d="M110.4 672.7L113.3 675.1L110.4 677.4L107.5 675.1Z" fill="#000"/>
<path d="M150.8 668.8L153.7 671.1L150.8 673.4L147.9 671.1Z" fill="#000"/>
<path d="M60.6 596.9L63.4 602.2L57.8 602.2Z" fill="#000"/>
<text x="68.1" y="603.6" font-size="10.4" fill="#111">Anti-HCMV IgGs</text>
<path d="M58.6 610.2l4 3.5m0 -3.5l-4 3.5M58.1 612h5" stroke="#bbb" stroke-width="0.7"/>
<text x="68.1" y="615.6" font-size="10.4" fill="#111">Ctrl IgGs</text>
<path d="M60.6 621.5L63.7 624L60.6 626.5L57.5 624Z" fill="#000"/>
<text x="68.1" y="627.6" font-size="10.4" fill="#111">0</text>
<line x1="70.7" y1="677.5" x2="70.7" y2="686.5" stroke="#000" stroke-width="1.2"/>
<line x1="69.2" y1="678" x2="72.2" y2="678" stroke="#000" stroke-width="1"/>
<line x1="69.2" y1="686" x2="72.2" y2="686" stroke="#000" stroke-width="1"/>
<line x1="110.4" y1="673" x2="110.4" y2="681.5" stroke="#000" stroke-width="1.2"/>
<line x1="108.9" y1="673.5" x2="111.9" y2="673.5" stroke="#000" stroke-width="1"/>
<line x1="108.9" y1="681" x2="111.9" y2="681" stroke="#000" stroke-width="1"/>
<line x1="150.6" y1="670" x2="150.6" y2="679" stroke="#000" stroke-width="1.2"/>
<line x1="149.1" y1="670.5" x2="152.1" y2="670.5" stroke="#000" stroke-width="1"/>
<line x1="149.1" y1="678.5" x2="152.1" y2="678.5" stroke="#000" stroke-width="1"/>
<rect x="185.2" y="591.5" width="119.7" height="113.5" fill="none" stroke="#d0d0d0" stroke-width="1"/>
<text x="182.2" y="708.3" font-size="9.3" fill="#333" text-anchor="end">0</text>
<text x="182.2" y="689.4" font-size="9.3" fill="#333" text-anchor="end">10</text>
<text x="182.2" y="670.5" font-size="9.3" fill="#333" text-anchor="end">20</text>
<text x="182.2" y="651.5" font-size="9.3" fill="#333" text-anchor="end">30</text>
<text x="182.2" y="632.6" font-size="9.3" fill="#333" text-anchor="end">40</text>
<text x="182.2" y="613.7" font-size="9.3" fill="#333" text-anchor="end">50</text>
<text x="182.2" y="594.8" font-size="9.3" fill="#333" text-anchor="end">60</text>
<text x="206.4" y="718.3" font-size="10.4" font-weight="bold" fill="#000" text-anchor="middle">10:1</text>
<text x="246.5" y="718.3" font-size="10.4" font-weight="bold" fill="#000" text-anchor="middle">30:1</text>
<text x="288.5" y="718.3" font-size="10.4" font-weight="bold" fill="#000" text-anchor="middle">100:1</text>
<path d="M205.8 649.2 L245.4 617 L285.6 593.4" fill="none" stroke="#c4c4c4" stroke-width="0.9"/>
<path d="M205.8 697.6 L245.4 692.9 L285.6 687" fill="none" stroke="#c4c4c4" stroke-width="0.9"/>
<path d="M205.8 697.4 L245.4 696.5 L285.6 687.2" fill="none" stroke="#c4c4c4" stroke-width="0.9"/>
<path d="M205.8 647.3L207.5 650.6L204.1 650.6Z" fill="#000"/>
<path d="M245.4 615.2L247.1 618.4L243.7 618.4Z" fill="#000"/>
<path d="M285.6 591.5L287.3 594.8L283.9 594.8Z" fill="#000"/>
<path d="M204.3 696.1l3 3m0 -3l-3 3M205.8 695.6v4" stroke="#bbb" stroke-width="0.7"/>
<path d="M243.9 691.4l3 3m0 -3l-3 3M245.4 690.9v4" stroke="#bbb" stroke-width="0.7"/>
<path d="M284.1 685.5l3 3m0 -3l-3 3M285.6 685v4" stroke="#bbb" stroke-width="0.7"/>
<path d="M205.8 695.1L208.7 697.4L205.8 699.8L202.9 697.4Z" fill="#000"/>
<path d="M245.4 694.1L248.3 696.5L245.4 698.8L242.5 696.5Z" fill="#000"/>
<path d="M285.6 684.9L288.5 687.2L285.6 689.6L282.7 687.2Z" fill="#000"/>
<path d="M190.3 594.9L193.1 600.2L187.5 600.2Z" fill="#000"/>
<text x="197.8" y="601.6" font-size="10.4" fill="#111">Cetuximab</text>
<path d="M188.3 608.2l4 3.5m0 -3.5l-4 3.5M187.8 610h5" stroke="#bbb" stroke-width="0.7"/>
<text x="197.8" y="613.6" font-size="10.4" fill="#111">Rituximab</text>
<path d="M190.3 619.5L193.4 622L190.3 624.5L187.2 622Z" fill="#000"/>
<text x="197.8" y="625.6" font-size="10.4" fill="#111">0</text>
<rect x="323.5" y="591.4" width="119.6" height="113" fill="none" stroke="#d0d0d0" stroke-width="1"/>
<text x="320.5" y="707.7" font-size="9.3" fill="#333" text-anchor="end">0</text>
<text x="320.5" y="679.4" font-size="9.3" fill="#333" text-anchor="end">10</text>
<text x="320.5" y="651.2" font-size="9.3" fill="#333" text-anchor="end">20</text>
<text x="320.5" y="622.9" font-size="9.3" fill="#333" text-anchor="end">30</text>
<text x="320.5" y="594.7" font-size="9.3" fill="#333" text-anchor="end">40</text>
<text x="346.9" y="718.3" font-size="10.4" font-weight="bold" fill="#000" text-anchor="middle">1:1</text>
<text x="386.1" y="718.3" font-size="10.4" font-weight="bold" fill="#000" text-anchor="middle">3:1</text>
<text x="428.4" y="718.3" font-size="10.4" font-weight="bold" fill="#000" text-anchor="middle">10:1</text>
<path d="M344.7 698.2 L383.6 695.9 L423.7 677.8" fill="none" stroke="#c4c4c4" stroke-width="0.9"/>
<path d="M344.7 697.3 L383.6 664.9 L423.7 620.5" fill="none" stroke="#c4c4c4" stroke-width="0.9"/>
<path d="M344.7 700.2 L383.6 695.4 L423.7 670.8" fill="none" stroke="#c4c4c4" stroke-width="0.9"/>
<path d="M344.7 695.3L347.3 700.3L342.1 700.3Z" fill="#000"/>
<path d="M383.6 693.1L386.2 698L381 698Z" fill="#000"/>
<path d="M423.7 675L426.3 679.9L421.1 679.9Z" fill="#000"/>
<path d="M343.2 695.8l3 3m0 -3l-3 3M344.7 695.3v4" stroke="#bbb" stroke-width="0.7"/>
<path d="M382.1 663.4l3 3m0 -3l-3 3M383.6 662.9v4" stroke="#bbb" stroke-width="0.7"/>
<path d="M422.2 619l3 3m0 -3l-3 3M423.7 618.5v4" stroke="#bbb" stroke-width="0.7"/>
<path d="M344.7 697.8L347.6 700.2L344.7 702.5L341.8 700.2Z" fill="#000"/>
<path d="M383.6 693L386.5 695.4L383.6 697.7L380.7 695.4Z" fill="#000"/>
<path d="M423.7 668.4L426.6 670.8L423.7 673.1L420.8 670.8Z" fill="#000"/>
<path d="M331.7 595.9L334.5 601.2L328.9 601.2Z" fill="#000"/>
<text x="339.2" y="602.6" font-size="10.4" fill="#111">Cetuximab</text>
<path d="M329.7 609.2l4 3.5m0 -3.5l-4 3.5M329.2 611h5" stroke="#bbb" stroke-width="0.7"/>
<text x="339.2" y="614.6" font-size="10.4" fill="#111">Rituximab</text>
<path d="M331.7 620.5L334.8 623L331.7 625.5L328.6 623Z" fill="#000"/>
<text x="339.2" y="626.6" font-size="10.4" fill="#111">0</text>
</svg>
</body></html>
